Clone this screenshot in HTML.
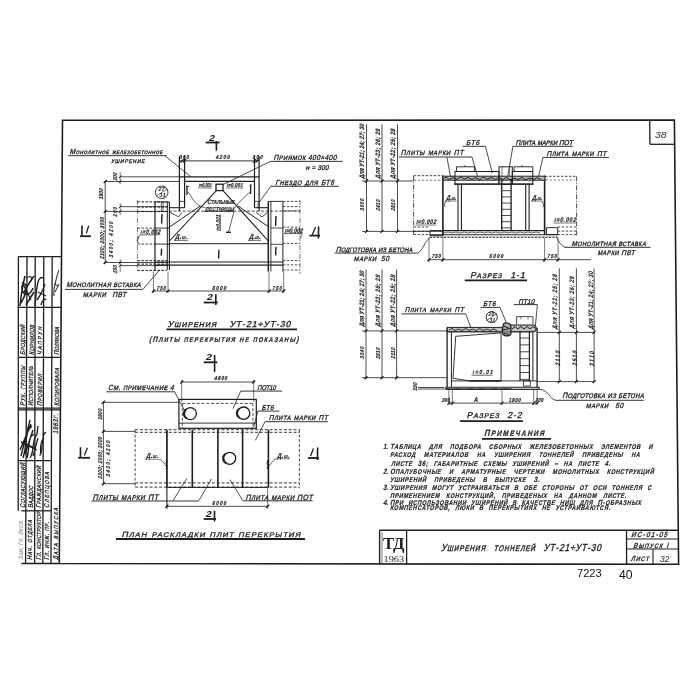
<!DOCTYPE html>
<html><head><meta charset="utf-8"><style>
html,body{margin:0;padding:0;background:#fff;width:700px;height:700px;overflow:hidden}
svg{display:block;will-change:transform}
</style></head><body>
<svg width="700" height="700" viewBox="0 0 700 700" stroke-linecap="butt">
<rect x="0" y="0" width="700" height="700" fill="#fff"/>
<polygon points="62.5,120.3 674.4,120.0 678.6,564.3 59.3,563.5" fill="none" stroke="#1e1e1e" stroke-width="1.6"/>
<line x1="649.7" y1="120.1" x2="649.9" y2="144.3" stroke="#1e1e1e" stroke-width="1.3"/>
<line x1="649.9" y1="144.3" x2="674.6" y2="144.3" stroke="#1e1e1e" stroke-width="1.3"/>
<text x="655.0" y="138.0" font-family="Liberation Sans" font-size="9.5" font-weight="normal" font-style="italic" fill="#1e1e1e" text-anchor="start" textLength="11.5" lengthAdjust="spacingAndGlyphs">38</text>
<line x1="379.6" y1="530.2" x2="678.0" y2="530.2" stroke="#1e1e1e" stroke-width="1.6"/>
<line x1="379.6" y1="530.2" x2="379.6" y2="564.0" stroke="#1e1e1e" stroke-width="1.4"/>
<line x1="382.0" y1="532.3" x2="382.0" y2="564.0" stroke="#1e1e1e" stroke-width="0.6"/>
<line x1="406.6" y1="530.2" x2="406.6" y2="564.0" stroke="#1e1e1e" stroke-width="1.3"/>
<text x="383.0" y="548.5" font-family="Liberation Serif" font-size="16" font-weight="bold" font-style="normal" fill="#1e1e1e" text-anchor="start" textLength="21.5" lengthAdjust="spacingAndGlyphs">ТД</text>
<text x="383.5" y="562.0" font-family="Liberation Serif" font-size="8" font-weight="normal" font-style="normal" fill="#1e1e1e" text-anchor="start" textLength="20.5" lengthAdjust="spacingAndGlyphs">1963</text>
<text transform="translate(441.00 551.20) skewX(-14) scale(0.800 1)" font-family="Liberation Sans" font-size="10.2" font-weight="normal" letter-spacing="1.125" word-spacing="5.641" fill="#1e1e1e" stroke="#1e1e1e" stroke-width="0.4"><tspan font-size="10.20">У</tspan><tspan font-size="7.96">ШИРЕНИЯ</tspan><tspan font-size="10.20"> </tspan><tspan font-size="7.96">ТОННЕЛЕЙ</tspan><tspan font-size="10.20"> УТ-21÷УТ-30</tspan></text>
<line x1="626.5" y1="530.2" x2="626.6" y2="564.2" stroke="#1e1e1e" stroke-width="1.3"/>
<line x1="626.5" y1="539.0" x2="678.2" y2="539.0" stroke="#1e1e1e" stroke-width="1.1"/>
<line x1="626.5" y1="549.0" x2="678.3" y2="549.0" stroke="#1e1e1e" stroke-width="1.1"/>
<line x1="653.0" y1="549.0" x2="653.0" y2="564.2" stroke="#1e1e1e" stroke-width="1.1"/>
<text transform="translate(631.00 537.00) skewX(-18) scale(0.850 1)" font-family="Liberation Sans" font-size="7.4" font-weight="normal" letter-spacing="1.472" fill="#1e1e1e" stroke="#1e1e1e" stroke-width="0.35"><tspan font-size="7.40">ИС-01-05</tspan></text>
<text transform="translate(633.00 547.50) skewX(-18) scale(0.850 1)" font-family="Liberation Sans" font-size="7.4" font-weight="normal" letter-spacing="1.405" fill="#1e1e1e" stroke="#1e1e1e" stroke-width="0.35"><tspan font-size="7.40">В</tspan><tspan font-size="6.29">ЫПУСК</tspan><tspan font-size="7.40"> I</tspan></text>
<text transform="translate(630.50 561.00) skewX(-18) scale(0.850 1)" font-family="Liberation Sans" font-size="7.4" font-weight="normal" letter-spacing="1.208" fill="#1e1e1e" stroke="#1e1e1e" stroke-width="0.35"><tspan font-size="7.40">Л</tspan><tspan font-size="6.29">ИСТ</tspan></text>
<text x="660.0" y="561.5" font-family="Liberation Sans" font-size="9.5" font-weight="normal" font-style="italic" fill="#1e1e1e" text-anchor="start" textLength="9.5" lengthAdjust="spacingAndGlyphs">32</text>
<text x="577.0" y="576.6" font-family="Liberation Sans" font-size="11" font-weight="normal" font-style="normal" fill="#111" text-anchor="start" textLength="24.7" lengthAdjust="spacingAndGlyphs">7223</text>
<text x="619.0" y="579.4" font-family="Liberation Sans" font-size="13.5" font-weight="normal" font-style="normal" fill="#111" text-anchor="start" textLength="13.6" lengthAdjust="spacingAndGlyphs">40</text>
<line x1="18.4" y1="256.6" x2="61.0" y2="256.6" stroke="#1e1e1e" stroke-width="1.3"/>
<line x1="18.4" y1="256.6" x2="18.2" y2="510.8" stroke="#1e1e1e" stroke-width="1.3"/>
<line x1="27.0" y1="256.6" x2="25.6" y2="563.4" stroke="#1e1e1e" stroke-width="1.3"/>
<line x1="35.2" y1="256.6" x2="34.6" y2="563.4" stroke="#1e1e1e" stroke-width="1.3"/>
<line x1="43.8" y1="256.6" x2="42.8" y2="563.4" stroke="#1e1e1e" stroke-width="1.3"/>
<line x1="52.2" y1="256.6" x2="51.0" y2="563.4" stroke="#1e1e1e" stroke-width="1.3"/>
<line x1="18.4" y1="307.4" x2="60.9" y2="307.4" stroke="#1e1e1e" stroke-width="1.3"/>
<line x1="18.3" y1="357.4" x2="60.5" y2="357.4" stroke="#1e1e1e" stroke-width="1.3"/>
<line x1="18.3" y1="408.2" x2="60.2" y2="408.2" stroke="#1e1e1e" stroke-width="1.3"/>
<line x1="18.3" y1="409.9" x2="60.2" y2="409.9" stroke="#1e1e1e" stroke-width="1.3"/>
<line x1="18.2" y1="460.6" x2="51.2" y2="460.6" stroke="#1e1e1e" stroke-width="1.3"/>
<line x1="21.5" y1="510.8" x2="51.0" y2="510.8" stroke="#1e1e1e" stroke-width="1.3"/>
<line x1="21.5" y1="563.4" x2="59.5" y2="563.4" stroke="#1e1e1e" stroke-width="1.5"/>
<text transform="translate(25.45 355.00) rotate(-90) skewX(-14) scale(0.820 1)" font-family="Liberation Sans" font-size="6.8" font-weight="normal" letter-spacing="0.562" fill="#1e1e1e" stroke="#1e1e1e" stroke-width="0.3"><tspan font-size="6.80">Б</tspan><tspan font-size="5.85">РОДСКИЙ</tspan></text>
<text transform="translate(33.75 355.00) rotate(-90) skewX(-14) scale(0.820 1)" font-family="Liberation Sans" font-size="6.8" font-weight="normal" letter-spacing="0.494" fill="#1e1e1e" stroke="#1e1e1e" stroke-width="0.3"><tspan font-size="6.80">К</tspan><tspan font-size="5.85">ОРНИЛОВ</tspan></text>
<text transform="translate(41.95 355.00) rotate(-90) skewX(-14) scale(0.820 1)" font-family="Liberation Sans" font-size="6.8" font-weight="normal" letter-spacing="1.973" fill="#1e1e1e" stroke="#1e1e1e" stroke-width="0.3"><tspan font-size="6.80">Ч</tspan><tspan font-size="5.85">АПРУН</tspan></text>
<text transform="translate(58.95 355.00) rotate(-90) skewX(-14) scale(0.820 1)" font-family="Liberation Sans" font-size="6.8" font-weight="normal" letter-spacing="0.174" fill="#1e1e1e" stroke="#1e1e1e" stroke-width="0.3"><tspan font-size="6.80">П</tspan><tspan font-size="5.85">ОЛЯКОВА</tspan></text>
<text transform="translate(24.95 406.00) rotate(-90) skewX(-14) scale(0.820 1)" font-family="Liberation Sans" font-size="6.8" font-weight="normal" letter-spacing="0.911" fill="#1e1e1e" stroke="#1e1e1e" stroke-width="0.3"><tspan font-size="6.80">Р</tspan><tspan font-size="5.85">УК</tspan><tspan font-size="6.80">. </tspan><tspan font-size="5.85">ГРУППЫ</tspan></text>
<text transform="translate(33.45 406.00) rotate(-90) skewX(-14) scale(0.820 1)" font-family="Liberation Sans" font-size="6.8" font-weight="normal" letter-spacing="0.357" fill="#1e1e1e" stroke="#1e1e1e" stroke-width="0.3"><tspan font-size="6.80">И</tspan><tspan font-size="5.85">СПОЛНИТЕЛЬ</tspan></text>
<text transform="translate(41.75 406.00) rotate(-90) skewX(-14) scale(0.820 1)" font-family="Liberation Sans" font-size="6.8" font-weight="normal" letter-spacing="0.868" fill="#1e1e1e" stroke="#1e1e1e" stroke-width="0.3"><tspan font-size="6.80">П</tspan><tspan font-size="5.85">РОВЕРИЛ</tspan></text>
<text transform="translate(58.75 406.00) rotate(-90) skewX(-14) scale(0.820 1)" font-family="Liberation Sans" font-size="6.8" font-weight="normal" letter-spacing="0.625" fill="#1e1e1e" stroke="#1e1e1e" stroke-width="0.3"><tspan font-size="6.80">К</tspan><tspan font-size="5.85">ОПИРОВАЛА</tspan></text>
<text transform="translate(58.45 434.00) rotate(-90) skewX(-14) scale(0.820 1)" font-family="Liberation Sans" font-size="6.8" font-weight="normal" letter-spacing="0.842" fill="#1e1e1e" stroke="#1e1e1e" stroke-width="0.3"><tspan font-size="6.80">1963</tspan><tspan font-size="5.85">Г</tspan><tspan font-size="6.80">.</tspan></text>
<text transform="translate(24.95 508.00) rotate(-90) skewX(-14) scale(0.820 1)" font-family="Liberation Sans" font-size="6.8" font-weight="normal" letter-spacing="0.743" fill="#1e1e1e" stroke="#1e1e1e" stroke-width="0.3"><tspan font-size="6.80">С</tspan><tspan font-size="5.85">ОГЛАСУЮЩИЙ</tspan></text>
<text transform="translate(32.95 508.00) rotate(-90) skewX(-14) scale(0.820 1)" font-family="Liberation Sans" font-size="6.8" font-weight="normal" letter-spacing="0.301" fill="#1e1e1e" stroke="#1e1e1e" stroke-width="0.3"><tspan font-size="6.80">В</tspan><tspan font-size="5.85">АДДОС</tspan></text>
<text transform="translate(40.95 508.00) rotate(-90) skewX(-14) scale(0.820 1)" font-family="Liberation Sans" font-size="6.8" font-weight="normal" letter-spacing="0.661" fill="#1e1e1e" stroke="#1e1e1e" stroke-width="0.3"><tspan font-size="6.80">Г</tspan><tspan font-size="5.85">РАЖДАНСКИЙ</tspan></text>
<text transform="translate(49.45 508.00) rotate(-90) skewX(-14) scale(0.820 1)" font-family="Liberation Sans" font-size="6.8" font-weight="normal" letter-spacing="1.528" fill="#1e1e1e" stroke="#1e1e1e" stroke-width="0.3"><tspan font-size="6.80">С</tspan><tspan font-size="5.85">ЛЕПЦОВА</tspan></text>
<text transform="translate(23.30 560.00) rotate(-90) skewX(-14) scale(0.820 1)" font-family="Liberation Sans" font-size="6.4" font-weight="bold" letter-spacing="0.312" fill="#999"><tspan font-size="6.40">З</tspan><tspan font-size="5.50">АМ</tspan><tspan font-size="6.40">. Г</tspan><tspan font-size="5.50">Л</tspan><tspan font-size="6.40">. Э</tspan><tspan font-size="5.50">КСП</tspan><tspan font-size="6.40">.</tspan></text>
<text transform="translate(32.45 560.00) rotate(-90) skewX(-14) scale(0.820 1)" font-family="Liberation Sans" font-size="6.8" font-weight="normal" letter-spacing="0.922" fill="#1e1e1e" stroke="#1e1e1e" stroke-width="0.3"><tspan font-size="6.80">Н</tspan><tspan font-size="5.85">АЧ</tspan><tspan font-size="6.80">. </tspan><tspan font-size="5.85">ОТДЕЛА</tspan></text>
<text transform="translate(40.95 560.00) rotate(-90) skewX(-14) scale(0.820 1)" font-family="Liberation Sans" font-size="6.8" font-weight="normal" letter-spacing="0.348" fill="#1e1e1e" stroke="#1e1e1e" stroke-width="0.3"><tspan font-size="6.80">Г</tspan><tspan font-size="5.85">Л</tspan><tspan font-size="6.80">. </tspan><tspan font-size="5.85">КОНСТРУКТОР</tspan></text>
<text transform="translate(49.45 560.00) rotate(-90) skewX(-14) scale(0.820 1)" font-family="Liberation Sans" font-size="6.8" font-weight="normal" letter-spacing="0.677" fill="#1e1e1e" stroke="#1e1e1e" stroke-width="0.3"><tspan font-size="6.80">Г</tspan><tspan font-size="5.85">Л</tspan><tspan font-size="6.80">. </tspan><tspan font-size="5.85">ИНЖ</tspan><tspan font-size="6.80">. </tspan><tspan font-size="5.85">ПР</tspan><tspan font-size="6.80">.</tspan></text>
<text transform="translate(57.95 560.00) rotate(-90) skewX(-14) scale(0.820 1)" font-family="Liberation Sans" font-size="6.8" font-weight="normal" letter-spacing="1.606" fill="#1e1e1e" stroke="#1e1e1e" stroke-width="0.3"><tspan font-size="6.80">Д</tspan><tspan font-size="5.85">АТА</tspan><tspan font-size="6.80"> </tspan><tspan font-size="5.85">ВЫПУСКА</tspan></text>
<path d="M20,306 C21,296 22,288 25,276 M21,303 C24,298 27,292 26,286 C25,282 21,284 22,290 C24,296 30,296 33,288 M24,292 C28,285 31,280 34,276 M26,305 C29,300 32,295 34,292" fill="none" stroke="#1e1e1e" stroke-width="1.5"/>
<path d="M27,278 C30,275 33,277 31,281 M22,282 L31,300" fill="none" stroke="#1e1e1e" stroke-width="1.2"/>
<path d="M35,306 C36,298 36,290 38,282 C39,278 42,276 44,279 M37,300 C40,296 43,290 45,284 M38,292 L46,296 M41,305 C42,300 45,298 46,300" fill="none" stroke="#1e1e1e" stroke-width="1.3"/>
<path d="M54,296 C53,290 55,286 56,280 C57,276 58,272 59,270 M55,292 L59,284 M54,284 L58,286" fill="none" stroke="#1e1e1e" stroke-width="1.0"/>
<path d="M21,456 L30,420 M23,458 C28,442 24,432 32,426 M25,454 L33,430 M27,458 C30,448 27,438 34,434 M21,442 L34,448 M20,450 L31,424" fill="none" stroke="#1e1e1e" stroke-width="1.4"/>
<path d="M30,458 C35,450 31,442 37,434 L38,426 M33,456 L38,438 M29,446 L37,450" fill="none" stroke="#1e1e1e" stroke-width="1.3"/>
<path d="M40,456 C42,450 38,444 44,438 M41,454 L44,432 M43,436 L46,432" fill="none" stroke="#1e1e1e" stroke-width="1.1"/>
<text transform="translate(69.60 154.20) skewX(-14) scale(0.900 1)" font-family="Liberation Sans" font-size="7.4" font-weight="normal" letter-spacing="0.659" fill="#1e1e1e" stroke="#1e1e1e" stroke-width="0.32"><tspan font-size="7.40">М</tspan><tspan font-size="4.88">ОНОЛИТНОЕ</tspan><tspan font-size="7.40"> </tspan><tspan font-size="4.88">ЖЕЛЕЗОБЕТОННОЕ</tspan></text>
<line x1="68.3" y1="155.7" x2="166.6" y2="155.7" stroke="#1e1e1e" stroke-width="0.9"/>
<line x1="164.6" y1="155.5" x2="191.0" y2="176.9" stroke="#1e1e1e" stroke-width="0.8"/>
<text transform="translate(110.90 162.80) skewX(-14) scale(0.900 1)" font-family="Liberation Sans" font-size="5.4" font-weight="normal" letter-spacing="0.926" fill="#1e1e1e" stroke="#1e1e1e" stroke-width="0.32"><tspan font-size="5.40">УШИРЕНИЕ</tspan></text>
<text x="209.0" y="141.0" font-family="Liberation Sans" font-size="8.5" font-weight="bold" font-style="italic" fill="#1e1e1e" text-anchor="start" textLength="6.0" lengthAdjust="spacingAndGlyphs">2</text>
<line x1="205.7" y1="142.5" x2="219.6" y2="142.5" stroke="#1e1e1e" stroke-width="1.8"/>
<line x1="216.4" y1="141.0" x2="216.4" y2="150.7" stroke="#1e1e1e" stroke-width="1.6"/>
<line x1="179.4" y1="160.9" x2="259.1" y2="160.9" stroke="#1e1e1e" stroke-width="0.9"/>
<text transform="translate(179.00 158.50) skewX(-14) scale(0.820 1)" font-family="Liberation Sans" font-size="5.6" font-weight="bold" letter-spacing="1.121" fill="#1e1e1e" stroke="#1e1e1e" stroke-width="0.2"><tspan font-size="5.60">300</tspan></text>
<text transform="translate(215.50 159.00) skewX(-14) scale(0.820 1)" font-family="Liberation Sans" font-size="5.8" font-weight="bold" letter-spacing="1.391" fill="#1e1e1e" stroke="#1e1e1e" stroke-width="0.2"><tspan font-size="5.80">4200</tspan></text>
<text transform="translate(252.30 158.50) skewX(-14) scale(0.820 1)" font-family="Liberation Sans" font-size="5.6" font-weight="bold" letter-spacing="1.426" fill="#1e1e1e" stroke="#1e1e1e" stroke-width="0.2"><tspan font-size="5.60">300</tspan></text>
<line x1="180.5" y1="162.5" x2="183.5" y2="159.3" stroke="#1e1e1e" stroke-width="1.3"/>
<line x1="183.1" y1="162.5" x2="186.1" y2="159.3" stroke="#1e1e1e" stroke-width="1.3"/>
<line x1="253.0" y1="162.5" x2="256.0" y2="159.3" stroke="#1e1e1e" stroke-width="1.3"/>
<line x1="255.5" y1="162.5" x2="258.5" y2="159.3" stroke="#1e1e1e" stroke-width="1.3"/>
<text transform="translate(273.60 159.60) skewX(-14) scale(0.900 1)" font-family="Liberation Sans" font-size="7.4" font-weight="normal" letter-spacing="0.438" fill="#1e1e1e" stroke="#1e1e1e" stroke-width="0.32"><tspan font-size="7.40">П</tspan><tspan font-size="6.36">РИЯМОК</tspan><tspan font-size="7.40"> 400×400</tspan></text>
<line x1="270.3" y1="161.4" x2="342.6" y2="161.4" stroke="#1e1e1e" stroke-width="0.9"/>
<text transform="translate(305.50 169.90) skewX(-14) scale(0.900 1)" font-family="Liberation Sans" font-size="7.0" font-weight="normal" letter-spacing="0.309" fill="#1e1e1e" stroke="#1e1e1e" stroke-width="0.32"><tspan font-size="5.60">H</tspan><tspan font-size="7.00"> = 300</tspan></text>
<line x1="270.3" y1="161.4" x2="223.0" y2="184.6" stroke="#1e1e1e" stroke-width="0.8"/>
<text transform="translate(275.20 184.50) skewX(-14) scale(0.900 1)" font-family="Liberation Sans" font-size="7.4" font-weight="normal" letter-spacing="0.667" word-spacing="0.251" fill="#1e1e1e" stroke="#1e1e1e" stroke-width="0.32"><tspan font-size="7.40">Г</tspan><tspan font-size="6.36">НЕЗДО</tspan><tspan font-size="7.40"> </tspan><tspan font-size="6.36">ДЛЯ</tspan><tspan font-size="7.40"> БТ6</tspan></text>
<line x1="270.9" y1="186.3" x2="338.9" y2="186.3" stroke="#1e1e1e" stroke-width="0.9"/>
<line x1="270.9" y1="186.3" x2="258.0" y2="204.0" stroke="#1e1e1e" stroke-width="0.8"/>
<line x1="179.4" y1="156.3" x2="179.4" y2="211.0" stroke="#1e1e1e" stroke-width="1.2"/>
<line x1="184.6" y1="156.3" x2="184.6" y2="207.7" stroke="#1e1e1e" stroke-width="1.2"/>
<line x1="254.5" y1="156.3" x2="254.5" y2="207.7" stroke="#1e1e1e" stroke-width="1.2"/>
<line x1="259.1" y1="156.3" x2="259.1" y2="211.0" stroke="#1e1e1e" stroke-width="1.2"/>
<line x1="179.4" y1="201.4" x2="184.6" y2="201.4" stroke="#1e1e1e" stroke-width="0.8"/>
<line x1="254.5" y1="201.4" x2="259.1" y2="201.4" stroke="#1e1e1e" stroke-width="0.8"/>
<line x1="179.4" y1="176.9" x2="259.1" y2="176.9" stroke="#1e1e1e" stroke-width="1.1"/>
<line x1="184.6" y1="181.4" x2="254.5" y2="181.4" stroke="#1e1e1e" stroke-width="1.1"/>
<line x1="105.2" y1="181.5" x2="105.2" y2="263.3" stroke="#1e1e1e" stroke-width="0.8"/>
<line x1="105.2" y1="181.5" x2="180.0" y2="181.5" stroke="#1e1e1e" stroke-width="0.8"/>
<line x1="121.0" y1="176.8" x2="180.0" y2="176.8" stroke="#1e1e1e" stroke-width="0.8"/>
<line x1="105.2" y1="211.4" x2="168.0" y2="211.4" stroke="#1e1e1e" stroke-width="0.8"/>
<line x1="121.0" y1="206.7" x2="168.0" y2="206.7" stroke="#1e1e1e" stroke-width="0.8"/>
<line x1="105.2" y1="262.5" x2="168.0" y2="262.5" stroke="#1e1e1e" stroke-width="0.8"/>
<line x1="121.0" y1="265.6" x2="168.0" y2="265.6" stroke="#1e1e1e" stroke-width="0.8"/>
<line x1="120.2" y1="172.0" x2="120.2" y2="184.0" stroke="#1e1e1e" stroke-width="0.6"/>
<line x1="120.2" y1="203.0" x2="120.2" y2="215.0" stroke="#1e1e1e" stroke-width="0.6"/>
<line x1="120.2" y1="259.0" x2="120.2" y2="272.0" stroke="#1e1e1e" stroke-width="0.6"/>
<text transform="translate(103.32 199.60) rotate(-90) skewX(-14) scale(0.820 1)" font-family="Liberation Sans" font-size="5.6" font-weight="bold" letter-spacing="0.319" fill="#1e1e1e" stroke="#1e1e1e" stroke-width="0.2"><tspan font-size="5.60">1800</tspan></text>
<text transform="translate(117.42 180.70) rotate(-90) skewX(-14) scale(0.820 1)" font-family="Liberation Sans" font-size="5.6" font-weight="bold" letter-spacing="0.024" fill="#1e1e1e" stroke="#1e1e1e" stroke-width="0.2"><tspan font-size="5.60">200</tspan></text>
<text transform="translate(117.42 216.90) rotate(-90) skewX(-14) scale(0.820 1)" font-family="Liberation Sans" font-size="5.6" font-weight="bold" letter-spacing="1.121" fill="#1e1e1e" stroke="#1e1e1e" stroke-width="0.2"><tspan font-size="5.60">200</tspan></text>
<text transform="translate(117.42 273.50) rotate(-90) skewX(-14) scale(0.820 1)" font-family="Liberation Sans" font-size="5.6" font-weight="bold" letter-spacing="0.207" fill="#1e1e1e" stroke="#1e1e1e" stroke-width="0.2"><tspan font-size="5.60">200</tspan></text>
<text transform="translate(103.62 259.30) rotate(-90) skewX(-14) scale(0.820 1)" font-family="Liberation Sans" font-size="5.6" font-weight="bold" letter-spacing="0.467" fill="#1e1e1e" stroke="#1e1e1e" stroke-width="0.2"><tspan font-size="5.60">2100; 2000; 3000</tspan></text>
<text transform="translate(112.72 257.80) rotate(-90) skewX(-14) scale(0.820 1)" font-family="Liberation Sans" font-size="5.6" font-weight="bold" letter-spacing="1.730" fill="#1e1e1e" stroke="#1e1e1e" stroke-width="0.2"><tspan font-size="5.60">3400; 4200</tspan></text>
<line x1="103.7" y1="183.0" x2="106.7" y2="180.0" stroke="#1e1e1e" stroke-width="1.3"/>
<line x1="103.7" y1="212.9" x2="106.7" y2="209.9" stroke="#1e1e1e" stroke-width="1.3"/>
<line x1="103.7" y1="264.0" x2="106.7" y2="261.0" stroke="#1e1e1e" stroke-width="1.3"/>
<line x1="118.8" y1="178.10000000000002" x2="121.6" y2="175.5" stroke="#1e1e1e" stroke-width="1.0"/>
<line x1="118.8" y1="182.8" x2="121.6" y2="180.2" stroke="#1e1e1e" stroke-width="1.0"/>
<line x1="118.8" y1="208.0" x2="121.6" y2="205.39999999999998" stroke="#1e1e1e" stroke-width="1.0"/>
<line x1="118.8" y1="212.70000000000002" x2="121.6" y2="210.1" stroke="#1e1e1e" stroke-width="1.0"/>
<line x1="118.8" y1="263.8" x2="121.6" y2="261.2" stroke="#1e1e1e" stroke-width="1.0"/>
<line x1="118.8" y1="266.90000000000003" x2="121.6" y2="264.3" stroke="#1e1e1e" stroke-width="1.0"/>
<line x1="82.0" y1="225.5" x2="81.9" y2="236.5" stroke="#1e1e1e" stroke-width="1.6"/>
<line x1="88.7" y1="225.7" x2="86.3" y2="233.4" stroke="#1e1e1e" stroke-width="1.3"/>
<line x1="80.1" y1="236.2" x2="91.0" y2="236.2" stroke="#1e1e1e" stroke-width="1.8"/>
<line x1="168.9" y1="207.7" x2="184.6" y2="207.7" stroke="#1e1e1e" stroke-width="1.1"/>
<line x1="168.9" y1="211.1" x2="300.0" y2="211.1" stroke="#1e1e1e" stroke-width="0.8" stroke-dasharray="3,1.6"/>
<line x1="254.5" y1="207.7" x2="268.3" y2="207.7" stroke="#1e1e1e" stroke-width="1.1"/>
<line x1="155.0" y1="201.9" x2="155.0" y2="270.4" stroke="#1e1e1e" stroke-width="1.2"/>
<line x1="167.3" y1="201.9" x2="167.3" y2="270.0" stroke="#1e1e1e" stroke-width="1.0"/>
<line x1="169.4" y1="201.9" x2="169.4" y2="270.0" stroke="#1e1e1e" stroke-width="1.1"/>
<line x1="155.0" y1="201.9" x2="169.4" y2="201.9" stroke="#1e1e1e" stroke-width="0.9"/>
<line x1="161.4" y1="201.9" x2="161.4" y2="211.6" stroke="#1e1e1e" stroke-width="0.7"/>
<line x1="163.1" y1="201.9" x2="163.1" y2="211.6" stroke="#1e1e1e" stroke-width="0.7"/>
<line x1="155.0" y1="228.1" x2="169.4" y2="228.1" stroke="#1e1e1e" stroke-width="0.9"/>
<line x1="155.0" y1="244.1" x2="169.4" y2="244.1" stroke="#1e1e1e" stroke-width="0.9"/>
<line x1="137.4" y1="201.9" x2="167.0" y2="201.9" stroke="#1e1e1e" stroke-width="1.0" stroke-dasharray="2.6,1.4"/>
<line x1="137.4" y1="207.0" x2="167.0" y2="207.0" stroke="#1e1e1e" stroke-width="1.0" stroke-dasharray="2.6,1.4"/>
<line x1="137.4" y1="211.6" x2="167.0" y2="211.6" stroke="#1e1e1e" stroke-width="1.0" stroke-dasharray="2.6,1.4"/>
<line x1="137.4" y1="260.7" x2="167.0" y2="260.7" stroke="#1e1e1e" stroke-width="1.0" stroke-dasharray="2.6,1.4"/>
<line x1="137.4" y1="264.1" x2="167.0" y2="264.1" stroke="#1e1e1e" stroke-width="1.0" stroke-dasharray="2.6,1.4"/>
<line x1="137.4" y1="270.4" x2="167.0" y2="270.4" stroke="#1e1e1e" stroke-width="1.0" stroke-dasharray="2.6,1.4"/>
<line x1="137.4" y1="228.1" x2="155.0" y2="228.1" stroke="#1e1e1e" stroke-width="0.8" stroke-dasharray="2.6,1.4"/>
<line x1="137.4" y1="244.1" x2="155.0" y2="244.1" stroke="#1e1e1e" stroke-width="0.8" stroke-dasharray="2.6,1.4"/>
<line x1="137.4" y1="200.0" x2="137.4" y2="272.0" stroke="#1e1e1e" stroke-width="0.6" stroke-dasharray="5,1.5,1,1.5"/>
<text transform="translate(140.30 233.60) skewX(-14) scale(0.820 1)" font-family="Liberation Sans" font-size="6.4" font-weight="bold" letter-spacing="0.536" fill="#1e1e1e" stroke="#1e1e1e" stroke-width="0.2"><tspan font-size="5.12">I</tspan><tspan font-size="6.40">=0.002</tspan></text>
<line x1="139.8" y1="234.8" x2="160.3" y2="234.8" stroke="#1e1e1e" stroke-width="0.7"/>
<path d="M139.5,235 l-2.5,6.5 l2,1.5" fill="none" stroke="#1e1e1e" stroke-width="0.8"/>
<line x1="162.0" y1="214.0" x2="161.6" y2="223.6" stroke="#1e1e1e" stroke-width="1.4"/>
<line x1="161.6" y1="248.7" x2="161.3" y2="255.6" stroke="#1e1e1e" stroke-width="1.4"/>
<circle cx="161.7" cy="192.3" r="6.3" fill="none" stroke="#1e1e1e" stroke-width="0.9"/>
<text x="158.2" y="191.2" font-family="Liberation Sans" font-size="5" font-weight="bold" font-style="italic" fill="#1e1e1e" text-anchor="start" textLength="6.5" lengthAdjust="spacingAndGlyphs">27</text>
<text x="159.2" y="197.2" font-family="Liberation Sans" font-size="5" font-weight="bold" font-style="italic" fill="#1e1e1e" text-anchor="start" textLength="6.5" lengthAdjust="spacingAndGlyphs">31</text>
<line x1="156.0" y1="196.0" x2="167.5" y2="189.0" stroke="#1e1e1e" stroke-width="0.6"/>
<line x1="268.3" y1="201.4" x2="268.3" y2="271.5" stroke="#1e1e1e" stroke-width="1.5"/>
<line x1="270.9" y1="201.4" x2="270.9" y2="271.5" stroke="#1e1e1e" stroke-width="0.9"/>
<line x1="282.9" y1="201.4" x2="282.9" y2="271.7" stroke="#1e1e1e" stroke-width="1.0"/>
<line x1="268.3" y1="201.4" x2="282.9" y2="201.4" stroke="#1e1e1e" stroke-width="0.9"/>
<line x1="270.9" y1="228.0" x2="282.9" y2="228.0" stroke="#1e1e1e" stroke-width="0.8"/>
<line x1="270.9" y1="244.3" x2="282.9" y2="244.3" stroke="#1e1e1e" stroke-width="0.8"/>
<line x1="282.9" y1="201.4" x2="300.0" y2="201.4" stroke="#1e1e1e" stroke-width="0.8" stroke-dasharray="2.5,1.5"/>
<line x1="282.9" y1="206.6" x2="300.0" y2="206.6" stroke="#1e1e1e" stroke-width="0.8" stroke-dasharray="2.5,1.5"/>
<line x1="282.9" y1="210.9" x2="300.0" y2="210.9" stroke="#1e1e1e" stroke-width="0.8" stroke-dasharray="2.5,1.5"/>
<line x1="282.9" y1="227.1" x2="300.0" y2="227.1" stroke="#1e1e1e" stroke-width="0.8" stroke-dasharray="2.5,1.5"/>
<line x1="282.9" y1="243.4" x2="300.0" y2="243.4" stroke="#1e1e1e" stroke-width="0.8" stroke-dasharray="2.5,1.5"/>
<line x1="282.9" y1="260.6" x2="300.0" y2="260.6" stroke="#1e1e1e" stroke-width="0.8" stroke-dasharray="2.5,1.5"/>
<line x1="282.9" y1="264.9" x2="300.0" y2="264.9" stroke="#1e1e1e" stroke-width="0.8" stroke-dasharray="2.5,1.5"/>
<line x1="282.9" y1="270.0" x2="300.0" y2="270.0" stroke="#1e1e1e" stroke-width="0.8" stroke-dasharray="2.5,1.5"/>
<line x1="300.0" y1="200.0" x2="300.0" y2="274.0" stroke="#1e1e1e" stroke-width="0.6" stroke-dasharray="5,1.5,1,1.5"/>
<line x1="276.0" y1="216.0" x2="275.6" y2="226.0" stroke="#1e1e1e" stroke-width="1.4"/>
<line x1="276.0" y1="246.9" x2="275.6" y2="255.4" stroke="#1e1e1e" stroke-width="1.4"/>
<text transform="translate(284.60 232.60) skewX(-14) scale(0.820 1)" font-family="Liberation Sans" font-size="6.6" font-weight="bold" letter-spacing="0.001" fill="#1e1e1e" stroke="#1e1e1e" stroke-width="0.2"><tspan font-size="5.68">I</tspan><tspan font-size="6.60">=0.002</tspan></text>
<line x1="284.0" y1="233.6" x2="302.6" y2="233.6" stroke="#1e1e1e" stroke-width="0.7"/>
<path d="M302,234 l-1.5,3 l1,1" fill="none" stroke="#1e1e1e" stroke-width="0.7"/>
<line x1="318.6" y1="226.4" x2="318.4" y2="238.4" stroke="#1e1e1e" stroke-width="1.6"/>
<line x1="315.5" y1="227.0" x2="312.3" y2="234.8" stroke="#1e1e1e" stroke-width="1.3"/>
<line x1="309.4" y1="235.6" x2="320.0" y2="235.6" stroke="#1e1e1e" stroke-width="1.8"/>
<line x1="258.0" y1="204.0" x2="258.0" y2="207.7" stroke="#1e1e1e" stroke-width="0.8"/>
<polyline points="170.0,212.3 178.6,216.9 182.0,212.3" fill="none" stroke="#1e1e1e" stroke-width="0.8"/>
<polyline points="256.0,212.3 262.0,216.9 268.0,212.3" fill="none" stroke="#1e1e1e" stroke-width="0.8"/>
<line x1="216.3" y1="190.6" x2="169.5" y2="241.0" stroke="#1e1e1e" stroke-width="1.1"/>
<line x1="170.0" y1="226.6" x2="200.3" y2="206.0" stroke="#1e1e1e" stroke-width="1.0"/>
<line x1="223.0" y1="190.6" x2="268.3" y2="241.0" stroke="#1e1e1e" stroke-width="1.1"/>
<line x1="268.3" y1="226.6" x2="238.0" y2="206.0" stroke="#1e1e1e" stroke-width="1.0"/>
<rect x="216.0" y="184.2" width="7.0" height="6.4" fill="none" stroke="#1e1e1e" stroke-width="1.3"/>
<line x1="168.9" y1="243.7" x2="268.3" y2="243.7" stroke="#1e1e1e" stroke-width="1.0"/>
<line x1="155.0" y1="262.0" x2="283.0" y2="262.0" stroke="#1e1e1e" stroke-width="1.2"/>
<line x1="155.0" y1="265.1" x2="283.0" y2="265.1" stroke="#1e1e1e" stroke-width="1.2"/>
<text transform="translate(198.50 187.00) skewX(-14) scale(0.698 1)" font-family="Liberation Sans" font-size="5.6" font-weight="bold" letter-spacing="0.000" fill="#1e1e1e" stroke="#1e1e1e" stroke-width="0.2"><tspan font-size="4.82">I</tspan><tspan font-size="5.60">=0.001</tspan></text>
<line x1="198.0" y1="188.0" x2="212.0" y2="188.0" stroke="#1e1e1e" stroke-width="0.6"/>
<text transform="translate(226.50 187.00) skewX(-14) scale(0.820 1)" font-family="Liberation Sans" font-size="5.6" font-weight="bold" letter-spacing="0.149" fill="#1e1e1e" stroke="#1e1e1e" stroke-width="0.2"><tspan font-size="4.82">I</tspan><tspan font-size="5.60">=0.001</tspan></text>
<line x1="226.0" y1="188.0" x2="243.0" y2="188.0" stroke="#1e1e1e" stroke-width="0.6"/>
<text transform="translate(207.00 204.00) skewX(-14) scale(0.805 1)" font-family="Liberation Sans" font-size="6.6" font-weight="bold" letter-spacing="0.000" fill="#1e1e1e" stroke="#1e1e1e" stroke-width="0.2"><tspan font-size="6.60">С</tspan><tspan font-size="5.68">ТАЛЬНЫЕ</tspan></text>
<text transform="translate(205.00 210.50) skewX(-14) scale(0.820 1)" font-family="Liberation Sans" font-size="6.6" font-weight="bold" letter-spacing="0.327" fill="#1e1e1e" stroke="#1e1e1e" stroke-width="0.2"><tspan font-size="5.68">ЛЕСТНИЦЫ</tspan></text>
<line x1="204.0" y1="211.5" x2="234.0" y2="211.5" stroke="#1e1e1e" stroke-width="0.7"/>
<text transform="translate(219.50 231.00) rotate(-90) skewX(-14) scale(0.820 1)" font-family="Liberation Sans" font-size="5.6" font-weight="bold" letter-spacing="0.149" fill="#1e1e1e" stroke="#1e1e1e" stroke-width="0.2"><tspan font-size="4.82">I</tspan><tspan font-size="5.60">=0.001</tspan></text>
<line x1="220.5" y1="214.6" x2="220.5" y2="231.0" stroke="#1e1e1e" stroke-width="0.6"/>
<line x1="226.0" y1="232.3" x2="231.0" y2="232.3" stroke="#1e1e1e" stroke-width="1.4"/>
<line x1="228.5" y1="232.3" x2="234.0" y2="211.5" stroke="#1e1e1e" stroke-width="0.7"/>
<line x1="187.0" y1="186.0" x2="187.0" y2="195.0" stroke="#1e1e1e" stroke-width="1.3"/>
<line x1="186.0" y1="186.0" x2="189.0" y2="186.5" stroke="#1e1e1e" stroke-width="0.9"/>
<line x1="250.6" y1="185.0" x2="250.6" y2="194.0" stroke="#1e1e1e" stroke-width="1.3"/>
<line x1="249.5" y1="185.0" x2="252.0" y2="185.0" stroke="#1e1e1e" stroke-width="0.9"/>
<path d="M188,192 C192,196 194,206 206,208" fill="none" stroke="#1e1e1e" stroke-width="0.7"/>
<path d="M250,192 C246,196 238,202 232,212" fill="none" stroke="#1e1e1e" stroke-width="0.7"/>
<text transform="translate(175.00 239.00) skewX(-14) scale(0.820 1)" font-family="Liberation Sans" font-size="7" font-weight="bold" letter-spacing="0.669" fill="#1e1e1e" stroke="#1e1e1e" stroke-width="0.2"><tspan font-size="7.00">Д.</tspan><tspan font-size="4.34">Ш</tspan><tspan font-size="7.00">.</tspan></text>
<line x1="174.0" y1="240.3" x2="188.0" y2="240.3" stroke="#1e1e1e" stroke-width="0.7"/>
<text transform="translate(249.00 239.00) skewX(-14) scale(0.820 1)" font-family="Liberation Sans" font-size="7" font-weight="bold" letter-spacing="0.263" fill="#1e1e1e" stroke="#1e1e1e" stroke-width="0.2"><tspan font-size="7.00">Д.</tspan><tspan font-size="4.34">Ш</tspan><tspan font-size="7.00">.</tspan></text>
<line x1="248.0" y1="240.3" x2="261.0" y2="240.3" stroke="#1e1e1e" stroke-width="0.7"/>
<line x1="218.9" y1="249.7" x2="218.6" y2="258.6" stroke="#1e1e1e" stroke-width="1.4"/>
<text transform="translate(66.20 287.40) skewX(-14) scale(0.900 1)" font-family="Liberation Sans" font-size="7.4" font-weight="normal" letter-spacing="0.331" fill="#1e1e1e" stroke="#1e1e1e" stroke-width="0.32"><tspan font-size="7.40">М</tspan><tspan font-size="6.36">ОНОЛИТНАЯ</tspan><tspan font-size="7.40"> </tspan><tspan font-size="6.36">ВСТАВКА</tspan></text>
<line x1="64.9" y1="289.4" x2="142.9" y2="289.4" stroke="#1e1e1e" stroke-width="0.9"/>
<line x1="142.9" y1="289.4" x2="160.0" y2="269.5" stroke="#1e1e1e" stroke-width="0.8"/>
<text transform="translate(82.70 296.90) skewX(-14) scale(0.900 1)" font-family="Liberation Sans" font-size="7.4" font-weight="normal" letter-spacing="0.667" word-spacing="3.566" fill="#1e1e1e" stroke="#1e1e1e" stroke-width="0.32"><tspan font-size="6.66">МАРКИ</tspan><tspan font-size="7.40"> ПВТ</tspan></text>
<line x1="153.4" y1="291.0" x2="283.7" y2="291.0" stroke="#1e1e1e" stroke-width="0.8"/>
<line x1="153.4" y1="271.5" x2="153.4" y2="293.0" stroke="#1e1e1e" stroke-width="0.6"/>
<line x1="168.0" y1="271.5" x2="168.0" y2="293.0" stroke="#1e1e1e" stroke-width="0.6"/>
<line x1="269.0" y1="271.5" x2="269.0" y2="293.0" stroke="#1e1e1e" stroke-width="0.6"/>
<line x1="283.7" y1="271.5" x2="283.7" y2="293.0" stroke="#1e1e1e" stroke-width="0.6"/>
<text transform="translate(156.50 289.50) skewX(-14) scale(0.820 1)" font-family="Liberation Sans" font-size="5.6" font-weight="bold" letter-spacing="0.817" fill="#1e1e1e" stroke="#1e1e1e" stroke-width="0.2"><tspan font-size="5.60">750</tspan></text>
<text transform="translate(212.00 289.50) skewX(-14) scale(0.820 1)" font-family="Liberation Sans" font-size="5.8" font-weight="bold" letter-spacing="1.391" fill="#1e1e1e" stroke="#1e1e1e" stroke-width="0.2"><tspan font-size="5.80">6000</tspan></text>
<text transform="translate(272.00 289.50) skewX(-14) scale(0.820 1)" font-family="Liberation Sans" font-size="5.6" font-weight="bold" letter-spacing="1.121" fill="#1e1e1e" stroke="#1e1e1e" stroke-width="0.2"><tspan font-size="5.60">750</tspan></text>
<line x1="151.9" y1="292.5" x2="154.9" y2="289.5" stroke="#1e1e1e" stroke-width="1.3"/>
<line x1="166.5" y1="292.5" x2="169.5" y2="289.5" stroke="#1e1e1e" stroke-width="1.3"/>
<line x1="267.5" y1="292.5" x2="270.5" y2="289.5" stroke="#1e1e1e" stroke-width="1.3"/>
<line x1="282.2" y1="292.5" x2="285.2" y2="289.5" stroke="#1e1e1e" stroke-width="1.3"/>
<text x="207.0" y="300.3" font-family="Liberation Sans" font-size="8.5" font-weight="bold" font-style="italic" fill="#1e1e1e" text-anchor="start" textLength="6.0" lengthAdjust="spacingAndGlyphs">2</text>
<line x1="203.8" y1="302.5" x2="217.7" y2="302.5" stroke="#1e1e1e" stroke-width="1.8"/>
<line x1="215.8" y1="294.3" x2="215.8" y2="305.0" stroke="#1e1e1e" stroke-width="1.6"/>
<text transform="translate(167.50 327.10) skewX(-14) scale(1.000 1)" font-family="Liberation Sans" font-size="8.6" font-weight="normal" letter-spacing="1.000" word-spacing="8.943" fill="#1e1e1e" stroke="#1e1e1e" stroke-width="0.35"><tspan font-size="8.60">У</tspan><tspan font-size="7.05">ШИРЕНИЯ</tspan><tspan font-size="8.60"> УТ-21÷УТ-30</tspan></text>
<line x1="166.4" y1="329.3" x2="297.1" y2="329.3" stroke="#1e1e1e" stroke-width="1.8"/>
<text transform="translate(149.00 342.00) skewX(-14) scale(0.820 1)" font-family="Liberation Sans" font-size="8" font-weight="bold" letter-spacing="1.576" fill="#1e1e1e" stroke="#1e1e1e" stroke-width="0.2"><tspan font-size="8.00">(П</tspan><tspan font-size="6.88">ЛИТЫ</tspan><tspan font-size="8.00">  </tspan><tspan font-size="6.88">ПЕРЕКРЫТИЯ</tspan><tspan font-size="8.00">  </tspan><tspan font-size="6.88">НЕ</tspan><tspan font-size="8.00">  </tspan><tspan font-size="6.88">ПОКАЗАНЫ</tspan><tspan font-size="8.00">)</tspan></text>
<line x1="366.5" y1="124.3" x2="366.5" y2="231.4" stroke="#1e1e1e" stroke-width="0.8"/>
<line x1="365.0" y1="182.5" x2="368.0" y2="179.5" stroke="#1e1e1e" stroke-width="1.3"/>
<line x1="365.0" y1="232.9" x2="368.0" y2="229.9" stroke="#1e1e1e" stroke-width="1.3"/>
<line x1="382.0" y1="124.3" x2="382.0" y2="231.4" stroke="#1e1e1e" stroke-width="0.8"/>
<line x1="380.5" y1="182.5" x2="383.5" y2="179.5" stroke="#1e1e1e" stroke-width="1.3"/>
<line x1="380.5" y1="232.9" x2="383.5" y2="229.9" stroke="#1e1e1e" stroke-width="1.3"/>
<line x1="397.5" y1="124.3" x2="397.5" y2="231.4" stroke="#1e1e1e" stroke-width="0.8"/>
<line x1="396.0" y1="182.5" x2="399.0" y2="179.5" stroke="#1e1e1e" stroke-width="1.3"/>
<line x1="396.0" y1="232.9" x2="399.0" y2="229.9" stroke="#1e1e1e" stroke-width="1.3"/>
<line x1="362.0" y1="181.0" x2="413.6" y2="181.0" stroke="#1e1e1e" stroke-width="0.8"/>
<line x1="362.0" y1="231.4" x2="442.9" y2="231.4" stroke="#1e1e1e" stroke-width="0.8"/>
<text transform="translate(364.30 179.00) rotate(-90) skewX(-14) scale(0.820 1)" font-family="Liberation Sans" font-size="6.4" font-weight="bold" letter-spacing="0.135" fill="#1e1e1e" stroke="#1e1e1e" stroke-width="0.2"><tspan font-size="6.40">Д</tspan><tspan font-size="5.50">ЛЯ</tspan><tspan font-size="6.40"> УТ-21; 24; 27; 30</tspan></text>
<text transform="translate(380.30 179.00) rotate(-90) skewX(-14) scale(0.820 1)" font-family="Liberation Sans" font-size="6.4" font-weight="bold" letter-spacing="0.477" fill="#1e1e1e" stroke="#1e1e1e" stroke-width="0.2"><tspan font-size="6.40">Д</tspan><tspan font-size="5.50">ЛЯ</tspan><tspan font-size="6.40"> УТ-23; 26; 29</tspan></text>
<text transform="translate(395.30 179.00) rotate(-90) skewX(-14) scale(0.820 1)" font-family="Liberation Sans" font-size="6.4" font-weight="bold" letter-spacing="0.477" fill="#1e1e1e" stroke="#1e1e1e" stroke-width="0.2"><tspan font-size="6.40">Д</tspan><tspan font-size="5.50">ЛЯ</tspan><tspan font-size="6.40"> УТ-22; 25; 28</tspan></text>
<text transform="translate(364.32 211.00) rotate(-90) skewX(-14) scale(0.820 1)" font-family="Liberation Sans" font-size="5.6" font-weight="bold" letter-spacing="0.726" fill="#1e1e1e" stroke="#1e1e1e" stroke-width="0.2"><tspan font-size="5.60">3000</tspan></text>
<text transform="translate(380.32 211.00) rotate(-90) skewX(-14) scale(0.820 1)" font-family="Liberation Sans" font-size="5.6" font-weight="bold" letter-spacing="0.319" fill="#1e1e1e" stroke="#1e1e1e" stroke-width="0.2"><tspan font-size="5.60">2410</tspan></text>
<text transform="translate(395.22 211.00) rotate(-90) skewX(-14) scale(0.820 1)" font-family="Liberation Sans" font-size="5.6" font-weight="bold" letter-spacing="0.319" fill="#1e1e1e" stroke="#1e1e1e" stroke-width="0.2"><tspan font-size="5.60">2810</tspan></text>
<text transform="translate(400.70 155.40) skewX(-14) scale(0.900 1)" font-family="Liberation Sans" font-size="7.4" font-weight="normal" letter-spacing="0.667" word-spacing="0.694" fill="#1e1e1e" stroke="#1e1e1e" stroke-width="0.32"><tspan font-size="7.40">П</tspan><tspan font-size="6.36">ЛИТЫ</tspan><tspan font-size="7.40"> </tspan><tspan font-size="6.36">МАРКИ</tspan><tspan font-size="7.40"> ПТ</tspan></text>
<line x1="398.9" y1="157.0" x2="472.0" y2="157.0" stroke="#1e1e1e" stroke-width="0.9"/>
<line x1="472.0" y1="157.0" x2="477.7" y2="176.6" stroke="#1e1e1e" stroke-width="0.8"/>
<line x1="446.9" y1="157.0" x2="450.5" y2="176.6" stroke="#1e1e1e" stroke-width="0.8"/>
<text transform="translate(465.90 145.20) skewX(-14) scale(0.900 1)" font-family="Liberation Sans" font-size="7.2" font-weight="normal" letter-spacing="0.932" fill="#1e1e1e" stroke="#1e1e1e" stroke-width="0.32"><tspan font-size="7.20">БТ6</tspan></text>
<line x1="462.6" y1="146.3" x2="485.4" y2="146.3" stroke="#1e1e1e" stroke-width="0.9"/>
<line x1="485.4" y1="146.3" x2="492.3" y2="173.0" stroke="#1e1e1e" stroke-width="0.8"/>
<text transform="translate(515.60 144.60) skewX(-14) scale(0.900 1)" font-family="Liberation Sans" font-size="7.2" font-weight="normal" letter-spacing="0.116" fill="#1e1e1e" stroke="#1e1e1e" stroke-width="0.32"><tspan font-size="7.20">П</tspan><tspan font-size="6.19">ЛИТА</tspan><tspan font-size="7.20"> </tspan><tspan font-size="6.19">МАРКИ</tspan><tspan font-size="7.20"> ПОТ</tspan></text>
<line x1="512.9" y1="146.3" x2="572.9" y2="146.3" stroke="#1e1e1e" stroke-width="0.9"/>
<line x1="512.9" y1="146.3" x2="507.7" y2="176.6" stroke="#1e1e1e" stroke-width="0.8"/>
<text transform="translate(546.50 155.70) skewX(-14) scale(0.900 1)" font-family="Liberation Sans" font-size="7.2" font-weight="normal" letter-spacing="0.667" word-spacing="0.666" fill="#1e1e1e" stroke="#1e1e1e" stroke-width="0.32"><tspan font-size="7.20">П</tspan><tspan font-size="6.19">ЛИТА</tspan><tspan font-size="7.20"> </tspan><tspan font-size="6.19">МАРКИ</tspan><tspan font-size="7.20"> ПТ</tspan></text>
<line x1="542.9" y1="157.4" x2="608.9" y2="157.4" stroke="#1e1e1e" stroke-width="0.9"/>
<line x1="542.9" y1="157.4" x2="538.6" y2="176.6" stroke="#1e1e1e" stroke-width="0.8"/>
<line x1="413.6" y1="175.7" x2="413.6" y2="235.0" stroke="#1e1e1e" stroke-width="0.8" stroke-dasharray="5,1.5,1,1.5"/>
<line x1="413.6" y1="175.7" x2="443.0" y2="175.7" stroke="#1e1e1e" stroke-width="0.8" stroke-dasharray="2.5,1.5"/>
<line x1="414.0" y1="180.3" x2="442.0" y2="180.3" stroke="#1e1e1e" stroke-width="0.6" stroke-dasharray="2,2"/>
<line x1="442.9" y1="175.7" x2="442.9" y2="237.4" stroke="#1e1e1e" stroke-width="1.6"/>
<line x1="544.6" y1="175.7" x2="544.6" y2="237.4" stroke="#1e1e1e" stroke-width="1.6"/>
<line x1="576.6" y1="176.3" x2="576.6" y2="236.0" stroke="#1e1e1e" stroke-width="0.8" stroke-dasharray="5,1.5,1,1.5"/>
<line x1="545.0" y1="176.3" x2="576.6" y2="176.3" stroke="#1e1e1e" stroke-width="0.8" stroke-dasharray="2.5,1.5"/>
<line x1="546.0" y1="180.0" x2="575.0" y2="180.0" stroke="#1e1e1e" stroke-width="0.6" stroke-dasharray="2,2"/>
<rect x="442.6" y="176.2" width="102.4" height="4.0" fill="#bbb" stroke="#1e1e1e" stroke-width="1.0"/>
<path d="M443,179 l3,-2 l3,2.5 l4,-2 l3,2 l5,-2.5 l3,2 l4,-1.5 l4,2 l3,-2 l5,2 l3,-2.5 l4,2 l5,-1.5 l3,2 l4,-2 l4,2 l3,-2 l5,2.5 l3,-2 l4,1.5 l4,-2 l3,2 l5,-1.5 l4,1.5 l3,-2 l4,2" fill="none" stroke="#1e1e1e" stroke-width="1.0"/>
<rect x="455.0" y="171.5" width="44.0" height="12.6" fill="none" stroke="#1e1e1e" stroke-width="1.0"/>
<rect x="499.0" y="166.8" width="13.3" height="17.3" fill="none" stroke="#1e1e1e" stroke-width="1.0"/>
<line x1="502.0" y1="166.8" x2="502.0" y2="176.0" stroke="#1e1e1e" stroke-width="0.6"/>
<line x1="509.5" y1="166.8" x2="509.5" y2="176.0" stroke="#1e1e1e" stroke-width="0.6"/>
<rect x="512.3" y="171.5" width="20.5" height="12.6" fill="none" stroke="#1e1e1e" stroke-width="1.0"/>
<polyline points="456.5,171.5 456.5,166.8 474.6,166.8 474.6,171.5" fill="none" stroke="#1e1e1e" stroke-width="0.9"/>
<polyline points="514.0,171.5 514.0,166.8 532.8,166.8 532.8,171.5" fill="none" stroke="#1e1e1e" stroke-width="0.9"/>
<line x1="465.0" y1="165.2" x2="465.0" y2="166.8" stroke="#1e1e1e" stroke-width="0.9"/>
<line x1="522.0" y1="165.2" x2="522.0" y2="166.8" stroke="#1e1e1e" stroke-width="0.9"/>
<line x1="454.0" y1="184.1" x2="533.5" y2="184.1" stroke="#1e1e1e" stroke-width="1.1"/>
<line x1="458.0" y1="184.3" x2="458.0" y2="230.6" stroke="#1e1e1e" stroke-width="1.1"/>
<line x1="461.4" y1="184.3" x2="461.4" y2="230.6" stroke="#1e1e1e" stroke-width="1.1"/>
<line x1="525.7" y1="184.3" x2="525.7" y2="230.6" stroke="#1e1e1e" stroke-width="1.1"/>
<line x1="529.1" y1="184.3" x2="529.1" y2="230.6" stroke="#1e1e1e" stroke-width="1.1"/>
<line x1="501.7" y1="179.0" x2="501.7" y2="230.6" stroke="#1e1e1e" stroke-width="1.3"/>
<line x1="511.1" y1="179.0" x2="511.1" y2="230.6" stroke="#1e1e1e" stroke-width="1.3"/>
<line x1="501.7" y1="184.5" x2="511.1" y2="184.5" stroke="#1e1e1e" stroke-width="0.8"/>
<line x1="501.7" y1="190.7" x2="511.1" y2="190.7" stroke="#1e1e1e" stroke-width="0.8"/>
<line x1="501.7" y1="196.9" x2="511.1" y2="196.9" stroke="#1e1e1e" stroke-width="0.8"/>
<line x1="501.7" y1="203.1" x2="511.1" y2="203.1" stroke="#1e1e1e" stroke-width="0.8"/>
<line x1="501.7" y1="209.3" x2="511.1" y2="209.3" stroke="#1e1e1e" stroke-width="0.8"/>
<line x1="501.7" y1="215.5" x2="511.1" y2="215.5" stroke="#1e1e1e" stroke-width="0.8"/>
<line x1="501.7" y1="221.7" x2="511.1" y2="221.7" stroke="#1e1e1e" stroke-width="0.8"/>
<line x1="501.7" y1="227.9" x2="511.1" y2="227.9" stroke="#1e1e1e" stroke-width="0.8"/>
<line x1="442.9" y1="230.6" x2="544.6" y2="230.6" stroke="#1e1e1e" stroke-width="1.2"/>
<line x1="430.0" y1="234.9" x2="557.7" y2="234.9" stroke="#1e1e1e" stroke-width="1.2"/>
<rect x="430.0" y="235.0" width="127.7" height="2.4" fill="#d0d0d0" stroke="#1e1e1e" stroke-width="0.0"/>
<line x1="430.0" y1="237.4" x2="557.7" y2="237.4" stroke="#1e1e1e" stroke-width="0.9" stroke-dasharray="2,1.5"/>
<path d="M444,233 l4,-1 l4,1 l4,-1 l4,1 l4,-1 l4,1 l4,-1 l4,1 l4,-1 l4,1 l4,-1 l4,1 l4,-1 l4,1 l4,-1 l4,1 l4,-1 l4,1 l4,-1 l4,1 l4,-1 l4,1 l4,-1 l4,1" fill="none" stroke="#1e1e1e" stroke-width="0.7"/>
<rect x="430.0" y="230.6" width="12.9" height="5.1" fill="none" stroke="#1e1e1e" stroke-width="0.9"/>
<rect x="546.6" y="227.7" width="11.1" height="6.9" fill="none" stroke="#1e1e1e" stroke-width="0.9"/>
<line x1="413.7" y1="227.0" x2="430.0" y2="227.0" stroke="#1e1e1e" stroke-width="0.8" stroke-dasharray="2.5,1.5"/>
<line x1="557.7" y1="227.0" x2="576.6" y2="227.0" stroke="#1e1e1e" stroke-width="0.8" stroke-dasharray="2.5,1.5"/>
<line x1="413.7" y1="231.1" x2="430.0" y2="231.1" stroke="#1e1e1e" stroke-width="0.8" stroke-dasharray="2.5,1.5"/>
<line x1="557.7" y1="231.1" x2="576.6" y2="231.1" stroke="#1e1e1e" stroke-width="0.8" stroke-dasharray="2.5,1.5"/>
<line x1="413.7" y1="234.6" x2="430.0" y2="234.6" stroke="#1e1e1e" stroke-width="0.8" stroke-dasharray="2.5,1.5"/>
<line x1="557.7" y1="234.6" x2="576.6" y2="234.6" stroke="#1e1e1e" stroke-width="0.8" stroke-dasharray="2.5,1.5"/>
<text transform="translate(446.00 200.00) skewX(-14) scale(0.755 1)" font-family="Liberation Sans" font-size="7" font-weight="bold" letter-spacing="0.000" fill="#1e1e1e" stroke="#1e1e1e" stroke-width="0.2"><tspan font-size="7.00">Д.</tspan><tspan font-size="4.34">Ш</tspan><tspan font-size="7.00">.</tspan></text>
<line x1="445.5" y1="201.0" x2="456.5" y2="201.0" stroke="#1e1e1e" stroke-width="0.6"/>
<path d="M446,201 l-2,4 l1,2" fill="none" stroke="#1e1e1e" stroke-width="0.7"/>
<text transform="translate(532.00 200.00) skewX(-14) scale(0.755 1)" font-family="Liberation Sans" font-size="7" font-weight="bold" letter-spacing="0.000" fill="#1e1e1e" stroke="#1e1e1e" stroke-width="0.2"><tspan font-size="7.00">Д.</tspan><tspan font-size="4.34">Ш</tspan><tspan font-size="7.00">.</tspan></text>
<line x1="531.5" y1="201.0" x2="542.0" y2="201.0" stroke="#1e1e1e" stroke-width="0.6"/>
<path d="M542,201 l2,4 l-1,2" fill="none" stroke="#1e1e1e" stroke-width="0.7"/>
<text transform="translate(416.00 224.00) skewX(-14) scale(0.820 1)" font-family="Liberation Sans" font-size="6.6" font-weight="bold" letter-spacing="0.407" fill="#1e1e1e" stroke="#1e1e1e" stroke-width="0.2"><tspan font-size="5.68">I</tspan><tspan font-size="6.60">=0.002</tspan></text>
<line x1="415.5" y1="225.0" x2="436.0" y2="225.0" stroke="#1e1e1e" stroke-width="0.6"/>
<text transform="translate(554.00 222.00) skewX(-14) scale(0.820 1)" font-family="Liberation Sans" font-size="6.6" font-weight="bold" letter-spacing="0.753" fill="#1e1e1e" stroke="#1e1e1e" stroke-width="0.2"><tspan font-size="5.68">I</tspan><tspan font-size="6.60">=0.002</tspan></text>
<line x1="553.5" y1="223.0" x2="576.0" y2="223.0" stroke="#1e1e1e" stroke-width="0.6"/>
<text transform="translate(335.70 251.50) skewX(-14) scale(0.900 1)" font-family="Liberation Sans" font-size="7.4" font-weight="normal" letter-spacing="0.198" fill="#1e1e1e" stroke="#1e1e1e" stroke-width="0.32"><tspan font-size="7.40">П</tspan><tspan font-size="6.36">ОДГОТОВКА</tspan><tspan font-size="7.40"> </tspan><tspan font-size="6.36">ИЗ</tspan><tspan font-size="7.40"> </tspan><tspan font-size="6.36">БЕТОНА</tspan></text>
<line x1="334.7" y1="253.1" x2="417.3" y2="253.1" stroke="#1e1e1e" stroke-width="0.9"/>
<path d="M417.3,253.1 C423,251 424,242 430,237.4" fill="none" stroke="#1e1e1e" stroke-width="0.8"/>
<text transform="translate(353.80 261.00) skewX(-14) scale(0.900 1)" font-family="Liberation Sans" font-size="7.4" font-weight="normal" letter-spacing="0.667" word-spacing="2.086" fill="#1e1e1e" stroke="#1e1e1e" stroke-width="0.32"><tspan font-size="6.36">МАРКИ</tspan><tspan font-size="7.40"> 50</tspan></text>
<text transform="translate(571.40 245.70) skewX(-14) scale(0.900 1)" font-family="Liberation Sans" font-size="7.2" font-weight="normal" letter-spacing="0.448" fill="#1e1e1e" stroke="#1e1e1e" stroke-width="0.32"><tspan font-size="7.20">М</tspan><tspan font-size="6.19">ОНОЛИТНАЯ</tspan><tspan font-size="7.20"> </tspan><tspan font-size="6.19">ВСТАВКА</tspan></text>
<line x1="565.0" y1="247.3" x2="650.6" y2="247.3" stroke="#1e1e1e" stroke-width="0.9"/>
<path d="M556.3,237.0 C559,241 561,247 566,247.3" fill="none" stroke="#1e1e1e" stroke-width="0.8"/>
<text transform="translate(597.40 254.80) skewX(-14) scale(0.900 1)" font-family="Liberation Sans" font-size="7.2" font-weight="normal" letter-spacing="0.537" fill="#1e1e1e" stroke="#1e1e1e" stroke-width="0.32"><tspan font-size="6.19">МАРКИ</tspan><tspan font-size="7.20"> ПВТ</tspan></text>
<line x1="428.3" y1="259.7" x2="591.0" y2="259.7" stroke="#1e1e1e" stroke-width="0.8"/>
<line x1="429.0" y1="238.0" x2="429.0" y2="262.0" stroke="#1e1e1e" stroke-width="0.6"/>
<line x1="427.5" y1="261.2" x2="430.5" y2="258.2" stroke="#1e1e1e" stroke-width="1.3"/>
<line x1="442.9" y1="238.0" x2="442.9" y2="262.0" stroke="#1e1e1e" stroke-width="0.6"/>
<line x1="441.4" y1="261.2" x2="444.4" y2="258.2" stroke="#1e1e1e" stroke-width="1.3"/>
<line x1="544.6" y1="238.0" x2="544.6" y2="262.0" stroke="#1e1e1e" stroke-width="0.6"/>
<line x1="543.1" y1="261.2" x2="546.1" y2="258.2" stroke="#1e1e1e" stroke-width="1.3"/>
<line x1="558.0" y1="238.0" x2="558.0" y2="262.0" stroke="#1e1e1e" stroke-width="0.6"/>
<line x1="556.5" y1="261.2" x2="559.5" y2="258.2" stroke="#1e1e1e" stroke-width="1.3"/>
<text transform="translate(431.50 257.50) skewX(-14) scale(0.820 1)" font-family="Liberation Sans" font-size="5.6" font-weight="bold" letter-spacing="0.817" fill="#1e1e1e" stroke="#1e1e1e" stroke-width="0.2"><tspan font-size="5.60">750</tspan></text>
<text transform="translate(489.00 257.50) skewX(-14) scale(0.820 1)" font-family="Liberation Sans" font-size="5.8" font-weight="bold" letter-spacing="1.391" fill="#1e1e1e" stroke="#1e1e1e" stroke-width="0.2"><tspan font-size="5.80">6000</tspan></text>
<text transform="translate(547.00 257.50) skewX(-14) scale(0.820 1)" font-family="Liberation Sans" font-size="5.6" font-weight="bold" letter-spacing="1.121" fill="#1e1e1e" stroke="#1e1e1e" stroke-width="0.2"><tspan font-size="5.60">750</tspan></text>
<text transform="translate(469.90 278.00) skewX(-14) scale(1.000 1)" font-family="Liberation Sans" font-size="8.5" font-weight="normal" letter-spacing="1.000" word-spacing="4.429" fill="#1e1e1e" stroke="#1e1e1e" stroke-width="0.35"><tspan font-size="8.50">Р</tspan><tspan font-size="6.63">АЗРЕЗ</tspan><tspan font-size="8.50"> 1-1</tspan></text>
<line x1="464.7" y1="280.3" x2="527.0" y2="280.3" stroke="#1e1e1e" stroke-width="1.8"/>
<line x1="366.0" y1="269.5" x2="366.0" y2="378.6" stroke="#1e1e1e" stroke-width="0.8"/>
<line x1="364.5" y1="332.4" x2="367.5" y2="329.4" stroke="#1e1e1e" stroke-width="1.3"/>
<line x1="364.5" y1="379.2" x2="367.5" y2="376.2" stroke="#1e1e1e" stroke-width="1.3"/>
<line x1="382.0" y1="269.5" x2="382.0" y2="378.6" stroke="#1e1e1e" stroke-width="0.8"/>
<line x1="380.5" y1="332.4" x2="383.5" y2="329.4" stroke="#1e1e1e" stroke-width="1.3"/>
<line x1="380.5" y1="379.2" x2="383.5" y2="376.2" stroke="#1e1e1e" stroke-width="1.3"/>
<line x1="396.6" y1="269.5" x2="396.6" y2="378.6" stroke="#1e1e1e" stroke-width="0.8"/>
<line x1="395.1" y1="332.4" x2="398.1" y2="329.4" stroke="#1e1e1e" stroke-width="1.3"/>
<line x1="395.1" y1="379.2" x2="398.1" y2="376.2" stroke="#1e1e1e" stroke-width="1.3"/>
<line x1="362.0" y1="330.9" x2="447.1" y2="330.9" stroke="#1e1e1e" stroke-width="0.8"/>
<line x1="362.0" y1="377.7" x2="447.1" y2="377.7" stroke="#1e1e1e" stroke-width="0.8"/>
<text transform="translate(363.80 327.00) rotate(-90) skewX(-14) scale(0.820 1)" font-family="Liberation Sans" font-size="6.4" font-weight="bold" letter-spacing="0.196" fill="#1e1e1e" stroke="#1e1e1e" stroke-width="0.2"><tspan font-size="6.40">Д</tspan><tspan font-size="5.50">ЛЯ</tspan><tspan font-size="6.40"> УТ-21; 24; 27; 30</tspan></text>
<text transform="translate(379.60 327.00) rotate(-90) skewX(-14) scale(0.820 1)" font-family="Liberation Sans" font-size="6.4" font-weight="bold" letter-spacing="0.629" fill="#1e1e1e" stroke="#1e1e1e" stroke-width="0.2"><tspan font-size="6.40">Д</tspan><tspan font-size="5.50">ЛЯ</tspan><tspan font-size="6.40"> УТ-23; 26; 29</tspan></text>
<text transform="translate(394.80 327.00) rotate(-90) skewX(-14) scale(0.820 1)" font-family="Liberation Sans" font-size="6.4" font-weight="bold" letter-spacing="0.629" fill="#1e1e1e" stroke="#1e1e1e" stroke-width="0.2"><tspan font-size="6.40">Д</tspan><tspan font-size="5.50">ЛЯ</tspan><tspan font-size="6.40"> УТ-22; 25; 28</tspan></text>
<text transform="translate(363.82 359.00) rotate(-90) skewX(-14) scale(0.820 1)" font-family="Liberation Sans" font-size="5.6" font-weight="bold" letter-spacing="0.726" fill="#1e1e1e" stroke="#1e1e1e" stroke-width="0.2"><tspan font-size="5.60">3040</tspan></text>
<text transform="translate(379.82 359.00) rotate(-90) skewX(-14) scale(0.820 1)" font-family="Liberation Sans" font-size="5.6" font-weight="bold" letter-spacing="0.319" fill="#1e1e1e" stroke="#1e1e1e" stroke-width="0.2"><tspan font-size="5.60">2510</tspan></text>
<text transform="translate(394.62 359.00) rotate(-90) skewX(-14) scale(0.820 1)" font-family="Liberation Sans" font-size="5.6" font-weight="bold" letter-spacing="0.422" fill="#1e1e1e" stroke="#1e1e1e" stroke-width="0.2"><tspan font-size="5.60">2110</tspan></text>
<line x1="559.3" y1="268.4" x2="559.3" y2="381.6" stroke="#1e1e1e" stroke-width="0.8"/>
<line x1="557.8" y1="333.9" x2="560.8" y2="330.9" stroke="#1e1e1e" stroke-width="1.3"/>
<line x1="557.8" y1="383.1" x2="560.8" y2="380.1" stroke="#1e1e1e" stroke-width="1.3"/>
<line x1="576.4" y1="268.4" x2="576.4" y2="381.6" stroke="#1e1e1e" stroke-width="0.8"/>
<line x1="574.9" y1="333.9" x2="577.9" y2="330.9" stroke="#1e1e1e" stroke-width="1.3"/>
<line x1="574.9" y1="383.1" x2="577.9" y2="380.1" stroke="#1e1e1e" stroke-width="1.3"/>
<line x1="594.1" y1="268.4" x2="594.1" y2="381.6" stroke="#1e1e1e" stroke-width="0.8"/>
<line x1="592.6" y1="333.9" x2="595.6" y2="330.9" stroke="#1e1e1e" stroke-width="1.3"/>
<line x1="592.6" y1="383.1" x2="595.6" y2="380.1" stroke="#1e1e1e" stroke-width="1.3"/>
<line x1="537.4" y1="332.4" x2="595.0" y2="332.4" stroke="#1e1e1e" stroke-width="0.8"/>
<line x1="537.4" y1="381.6" x2="595.0" y2="381.6" stroke="#1e1e1e" stroke-width="0.8"/>
<text transform="translate(556.90 329.60) rotate(-90) skewX(-14) scale(0.820 1)" font-family="Liberation Sans" font-size="6.4" font-weight="bold" letter-spacing="0.858" fill="#1e1e1e" stroke="#1e1e1e" stroke-width="0.15"><tspan font-size="6.40">Д</tspan><tspan font-size="5.50">ЛЯ</tspan><tspan font-size="6.40"> УТ-22; 25; 28</tspan></text>
<text transform="translate(574.30 328.70) rotate(-90) skewX(-14) scale(0.820 1)" font-family="Liberation Sans" font-size="6.4" font-weight="bold" letter-spacing="0.629" fill="#1e1e1e" stroke="#1e1e1e" stroke-width="0.15"><tspan font-size="6.40">Д</tspan><tspan font-size="5.50">ЛЯ</tspan><tspan font-size="6.40"> УТ-23; 26; 29</tspan></text>
<text transform="translate(592.70 329.60) rotate(-90) skewX(-14) scale(0.820 1)" font-family="Liberation Sans" font-size="6.4" font-weight="bold" letter-spacing="0.318" fill="#1e1e1e" stroke="#1e1e1e" stroke-width="0.15"><tspan font-size="6.40">Д</tspan><tspan font-size="5.50">ЛЯ</tspan><tspan font-size="6.40"> УТ-21; 24; 27; 30</tspan></text>
<text transform="translate(559.80 366.00) rotate(-90) skewX(-14) scale(0.820 1)" font-family="Liberation Sans" font-size="6.4" font-weight="bold" letter-spacing="1.470" fill="#1e1e1e" stroke="#1e1e1e" stroke-width="0.2"><tspan font-size="6.40">2110</tspan></text>
<text transform="translate(576.50 366.00) rotate(-90) skewX(-14) scale(0.820 1)" font-family="Liberation Sans" font-size="6.4" font-weight="bold" letter-spacing="1.352" fill="#1e1e1e" stroke="#1e1e1e" stroke-width="0.2"><tspan font-size="6.40">2510</tspan></text>
<text transform="translate(593.60 366.50) rotate(-90) skewX(-14) scale(0.820 1)" font-family="Liberation Sans" font-size="6.4" font-weight="bold" letter-spacing="1.470" fill="#1e1e1e" stroke="#1e1e1e" stroke-width="0.2"><tspan font-size="6.40">3110</tspan></text>
<text transform="translate(404.80 312.10) skewX(-14) scale(0.900 1)" font-family="Liberation Sans" font-size="7.0" font-weight="normal" letter-spacing="0.667" word-spacing="0.895" fill="#1e1e1e" stroke="#1e1e1e" stroke-width="0.32"><tspan font-size="7.00">П</tspan><tspan font-size="6.02">ЛИТА</tspan><tspan font-size="7.00"> </tspan><tspan font-size="6.02">МАРКИ</tspan><tspan font-size="7.00"> ПТ</tspan></text>
<line x1="401.4" y1="313.9" x2="465.7" y2="313.9" stroke="#1e1e1e" stroke-width="0.9"/>
<line x1="465.7" y1="313.9" x2="471.0" y2="328.0" stroke="#1e1e1e" stroke-width="0.8"/>
<text transform="translate(483.00 305.70) skewX(-14) scale(0.900 1)" font-family="Liberation Sans" font-size="7.0" font-weight="normal" letter-spacing="0.776" fill="#1e1e1e" stroke="#1e1e1e" stroke-width="0.32"><tspan font-size="7.00">БТ6</tspan></text>
<line x1="480.7" y1="307.4" x2="500.0" y2="307.4" stroke="#1e1e1e" stroke-width="0.9"/>
<line x1="500.0" y1="307.4" x2="506.4" y2="322.8" stroke="#1e1e1e" stroke-width="0.8"/>
<circle cx="491.7" cy="317.1" r="5.6" fill="none" stroke="#1e1e1e" stroke-width="0.9"/>
<text x="488.3" y="316.2" font-family="Liberation Sans" font-size="4.8" font-weight="bold" font-style="italic" fill="#1e1e1e" text-anchor="start" textLength="6.2" lengthAdjust="spacingAndGlyphs">28</text>
<text x="489.2" y="321.7" font-family="Liberation Sans" font-size="4.8" font-weight="bold" font-style="italic" fill="#1e1e1e" text-anchor="start" textLength="6.2" lengthAdjust="spacingAndGlyphs">31</text>
<line x1="486.5" y1="320.5" x2="497.0" y2="313.5" stroke="#1e1e1e" stroke-width="0.6"/>
<text transform="translate(518.30 303.60) skewX(-14) scale(0.900 1)" font-family="Liberation Sans" font-size="7.0" font-weight="normal" letter-spacing="0.192" fill="#1e1e1e" stroke="#1e1e1e" stroke-width="0.32"><tspan font-size="7.00">ПТ10</tspan></text>
<line x1="513.8" y1="304.6" x2="537.4" y2="304.6" stroke="#1e1e1e" stroke-width="0.9"/>
<line x1="537.4" y1="304.6" x2="535.4" y2="326.0" stroke="#1e1e1e" stroke-width="0.8"/>
<line x1="447.1" y1="327.7" x2="447.1" y2="389.4" stroke="#1e1e1e" stroke-width="1.3"/>
<line x1="451.4" y1="332.0" x2="451.4" y2="389.4" stroke="#1e1e1e" stroke-width="1.0"/>
<line x1="537.1" y1="327.7" x2="537.1" y2="389.4" stroke="#1e1e1e" stroke-width="1.3"/>
<line x1="532.9" y1="332.0" x2="532.9" y2="380.9" stroke="#1e1e1e" stroke-width="1.0"/>
<rect x="447.3" y="327.4" width="55.0" height="4.3" fill="#c4c4c4" stroke="#1e1e1e" stroke-width="1.0"/>
<path d="M449,330 l3,-1.5 l3,2 l4,-1.5 l3,1.5 l4,-2 l3,2 l4,-1.5 l3,1.5 l4,-2 l3,2 l4,-1.5 l3,1.5 l4,-1.5 l3,1.5" fill="none" stroke="#1e1e1e" stroke-width="0.9"/>
<path d="M510.5,325 L534,325 C537,326 537,331 534,331.7 L510.5,331.7 Z" fill="#c0c0c0" stroke="#1e1e1e" stroke-width="1.1"/>
<path d="M512,329 l3,-2.5 l3,2.5 l3,-2.5 l3,2.5 l3,-2.5 l3,2.5 l3,-2.5 l3,2" fill="none" stroke="#1e1e1e" stroke-width="1.0"/>
<path d="M503.5,324 C505,322.5 509,322.5 510.5,325 C511.5,328 510.5,331 511,334 C510,336.5 505,336.5 503,334.5 C502,331 502.5,327 503.5,324 Z" fill="#aaa" stroke="#1e1e1e" stroke-width="1.2"/>
<path d="M503.5,326 l6,2.5 M503,330 l7,-1.5 M504,333.5 l5,1" fill="none" stroke="#1e1e1e" stroke-width="1.0"/>
<polyline points="516.6,324.3 516.6,316.6 532.9,316.6 532.9,324.3" fill="none" stroke="#1e1e1e" stroke-width="0.8"/>
<line x1="521.0" y1="316.6" x2="521.0" y2="319.5" stroke="#1e1e1e" stroke-width="0.6"/>
<line x1="528.0" y1="316.6" x2="528.0" y2="319.5" stroke="#1e1e1e" stroke-width="0.6"/>
<polyline points="501.1,332.9 455.7,336.3 453.0,378.3 469.4,380.9 501.1,380.9" fill="none" stroke="#1e1e1e" stroke-width="0.9"/>
<line x1="469.4" y1="380.9" x2="501.1" y2="380.9" stroke="#1e1e1e" stroke-width="1.1"/>
<line x1="501.1" y1="332.9" x2="501.1" y2="380.9" stroke="#1e1e1e" stroke-width="0.9"/>
<line x1="447.0" y1="332.0" x2="533.0" y2="332.0" stroke="#1e1e1e" stroke-width="0.6"/>
<text transform="translate(472.50 374.00) skewX(-14) scale(0.820 1)" font-family="Liberation Sans" font-size="6.0" font-weight="bold" letter-spacing="1.575" fill="#1e1e1e" stroke="#1e1e1e" stroke-width="0.2"><tspan font-size="4.80">I</tspan><tspan font-size="6.00">=0.01</tspan></text>
<line x1="471.5" y1="375.2" x2="492.5" y2="375.2" stroke="#1e1e1e" stroke-width="0.7"/>
<line x1="520.0" y1="331.0" x2="520.0" y2="380.9" stroke="#1e1e1e" stroke-width="1.2"/>
<line x1="529.4" y1="331.0" x2="529.4" y2="380.9" stroke="#1e1e1e" stroke-width="1.2"/>
<line x1="520.0" y1="338.0" x2="529.4" y2="338.0" stroke="#1e1e1e" stroke-width="0.8"/>
<line x1="520.0" y1="344.9" x2="529.4" y2="344.9" stroke="#1e1e1e" stroke-width="0.8"/>
<line x1="520.0" y1="351.8" x2="529.4" y2="351.8" stroke="#1e1e1e" stroke-width="0.8"/>
<line x1="520.0" y1="358.7" x2="529.4" y2="358.7" stroke="#1e1e1e" stroke-width="0.8"/>
<line x1="520.0" y1="365.6" x2="529.4" y2="365.6" stroke="#1e1e1e" stroke-width="0.8"/>
<line x1="520.0" y1="372.5" x2="529.4" y2="372.5" stroke="#1e1e1e" stroke-width="0.8"/>
<line x1="520.0" y1="379.4" x2="529.4" y2="379.4" stroke="#1e1e1e" stroke-width="0.8"/>
<rect x="523.4" y="380.9" width="6.9" height="5.1" fill="none" stroke="#1e1e1e" stroke-width="0.8"/>
<line x1="452.0" y1="380.9" x2="537.0" y2="380.9" stroke="#1e1e1e" stroke-width="0.9"/>
<rect x="445.8" y="387.2" width="93.5" height="2.3" fill="#b8b8b8" stroke="#1e1e1e" stroke-width="0.9"/>
<path d="M446,388.5 l6,0.5 l6,-0.5 l6,0.5 l6,-0.5 l6,0.5 l6,-0.5 l6,0.5 l6,-0.5 l6,0.5 l6,-0.5 l6,0.5" fill="none" stroke="#1e1e1e" stroke-width="0.8"/>
<line x1="418.0" y1="387.5" x2="444.5" y2="387.5" stroke="#1e1e1e" stroke-width="0.8"/>
<line x1="418.0" y1="389.0" x2="444.5" y2="389.0" stroke="#1e1e1e" stroke-width="0.8"/>
<text transform="translate(416.52 391.00) rotate(-90) skewX(-14) scale(0.820 1)" font-family="Liberation Sans" font-size="5.6" font-weight="bold" letter-spacing="0.207" fill="#1e1e1e" stroke="#1e1e1e" stroke-width="0.2"><tspan font-size="5.60">150</tspan></text>
<path d="M539.7,389.4 C548,389 550,400 556,400.3" fill="none" stroke="#1e1e1e" stroke-width="0.8"/>
<line x1="448.9" y1="403.1" x2="537.1" y2="403.1" stroke="#1e1e1e" stroke-width="0.8"/>
<line x1="448.9" y1="390.0" x2="448.9" y2="405.0" stroke="#1e1e1e" stroke-width="0.6"/>
<line x1="447.4" y1="404.6" x2="450.4" y2="401.6" stroke="#1e1e1e" stroke-width="1.3"/>
<line x1="452.3" y1="390.0" x2="452.3" y2="405.0" stroke="#1e1e1e" stroke-width="0.6"/>
<line x1="450.8" y1="404.6" x2="453.8" y2="401.6" stroke="#1e1e1e" stroke-width="1.3"/>
<line x1="502.0" y1="390.0" x2="502.0" y2="405.0" stroke="#1e1e1e" stroke-width="0.6"/>
<line x1="500.5" y1="404.6" x2="503.5" y2="401.6" stroke="#1e1e1e" stroke-width="1.3"/>
<line x1="533.7" y1="390.0" x2="533.7" y2="405.0" stroke="#1e1e1e" stroke-width="0.6"/>
<line x1="532.2" y1="404.6" x2="535.2" y2="401.6" stroke="#1e1e1e" stroke-width="1.3"/>
<line x1="537.1" y1="390.0" x2="537.1" y2="405.0" stroke="#1e1e1e" stroke-width="0.6"/>
<line x1="535.6" y1="404.6" x2="538.6" y2="401.6" stroke="#1e1e1e" stroke-width="1.3"/>
<text transform="translate(441.50 401.50) skewX(-14) scale(0.820 1)" font-family="Liberation Sans" font-size="5.6" font-weight="bold" letter-spacing="0.207" fill="#1e1e1e" stroke="#1e1e1e" stroke-width="0.2"><tspan font-size="5.60">300</tspan></text>
<text transform="translate(473.50 401.50) skewX(-14) scale(0.820 1)" font-family="Liberation Sans" font-size="6.8" font-weight="bold" letter-spacing="0.577" fill="#1e1e1e" stroke="#1e1e1e" stroke-width="0.2"><tspan font-size="6.80">A</tspan></text>
<text transform="translate(508.50 401.50) skewX(-14) scale(0.820 1)" font-family="Liberation Sans" font-size="5.8" font-weight="bold" letter-spacing="0.578" fill="#1e1e1e" stroke="#1e1e1e" stroke-width="0.2"><tspan font-size="5.80">1800</tspan></text>
<text transform="translate(535.00 401.50) skewX(-14) scale(0.820 1)" font-family="Liberation Sans" font-size="5.6" font-weight="bold" letter-spacing="0.207" fill="#1e1e1e" stroke="#1e1e1e" stroke-width="0.2"><tspan font-size="5.60">200</tspan></text>
<text transform="translate(562.20 398.40) skewX(-14) scale(0.900 1)" font-family="Liberation Sans" font-size="7.6" font-weight="normal" letter-spacing="0.363" fill="#1e1e1e" stroke="#1e1e1e" stroke-width="0.32"><tspan font-size="7.60">П</tspan><tspan font-size="6.54">ОДГОТОВКА</tspan><tspan font-size="7.60"> </tspan><tspan font-size="6.54">ИЗ</tspan><tspan font-size="7.60"> </tspan><tspan font-size="6.54">БЕТОНА</tspan></text>
<line x1="555.7" y1="400.3" x2="643.8" y2="400.3" stroke="#1e1e1e" stroke-width="0.9"/>
<text transform="translate(585.80 407.80) skewX(-14) scale(0.900 1)" font-family="Liberation Sans" font-size="7.4" font-weight="normal" letter-spacing="0.667" word-spacing="4.642" fill="#1e1e1e" stroke="#1e1e1e" stroke-width="0.32"><tspan font-size="6.36">МАРКИ</tspan><tspan font-size="7.40"> 50</tspan></text>
<text transform="translate(466.50 418.30) skewX(-14) scale(1.000 1)" font-family="Liberation Sans" font-size="8.5" font-weight="normal" letter-spacing="1.000" word-spacing="4.089" fill="#1e1e1e" stroke="#1e1e1e" stroke-width="0.35"><tspan font-size="8.50">Р</tspan><tspan font-size="6.80">АЗРЕЗ</tspan><tspan font-size="8.50"> 2-2</tspan></text>
<line x1="460.1" y1="421.1" x2="523.0" y2="421.1" stroke="#1e1e1e" stroke-width="1.9"/>
<text transform="translate(108.00 390.20) skewX(-14) scale(0.900 1)" font-family="Liberation Sans" font-size="7.4" font-weight="normal" letter-spacing="0.489" fill="#1e1e1e" stroke="#1e1e1e" stroke-width="0.32"><tspan font-size="7.40">С</tspan><tspan font-size="6.36">М</tspan><tspan font-size="7.40">. </tspan><tspan font-size="6.36">ПРИМЕЧАНИЕ</tspan><tspan font-size="7.40"> 4</tspan></text>
<line x1="106.2" y1="391.8" x2="174.6" y2="391.8" stroke="#1e1e1e" stroke-width="0.9"/>
<line x1="174.6" y1="391.8" x2="185.7" y2="412.6" stroke="#1e1e1e" stroke-width="0.8"/>
<line x1="181.7" y1="382.0" x2="253.7" y2="382.0" stroke="#1e1e1e" stroke-width="0.8"/>
<line x1="181.7" y1="380.0" x2="181.7" y2="402.0" stroke="#1e1e1e" stroke-width="0.6"/>
<line x1="180.2" y1="383.5" x2="183.2" y2="380.5" stroke="#1e1e1e" stroke-width="1.3"/>
<line x1="253.7" y1="380.0" x2="253.7" y2="402.0" stroke="#1e1e1e" stroke-width="0.6"/>
<line x1="252.2" y1="383.5" x2="255.2" y2="380.5" stroke="#1e1e1e" stroke-width="1.3"/>
<text transform="translate(214.00 380.00) skewX(-14) scale(0.820 1)" font-family="Liberation Sans" font-size="5.8" font-weight="bold" letter-spacing="0.984" fill="#1e1e1e" stroke="#1e1e1e" stroke-width="0.2"><tspan font-size="5.80">4800</tspan></text>
<text x="206.0" y="360.0" font-family="Liberation Sans" font-size="8.5" font-weight="bold" font-style="italic" fill="#1e1e1e" text-anchor="start" textLength="6.0" lengthAdjust="spacingAndGlyphs">2</text>
<line x1="203.7" y1="362.3" x2="217.4" y2="362.3" stroke="#1e1e1e" stroke-width="1.8"/>
<line x1="214.6" y1="355.0" x2="214.6" y2="372.0" stroke="#1e1e1e" stroke-width="1.6"/>
<rect x="178.9" y="399.4" width="77.4" height="28.9" fill="none" stroke="#1e1e1e" stroke-width="1.2"/>
<line x1="182.3" y1="403.4" x2="252.9" y2="403.4" stroke="#1e1e1e" stroke-width="0.8" stroke-dasharray="3,1.8"/>
<line x1="182.3" y1="403.4" x2="182.3" y2="428.0" stroke="#1e1e1e" stroke-width="0.8" stroke-dasharray="3,1.8"/>
<line x1="252.9" y1="403.4" x2="252.9" y2="428.0" stroke="#1e1e1e" stroke-width="0.8" stroke-dasharray="3,1.8"/>
<line x1="178.9" y1="423.1" x2="256.3" y2="423.1" stroke="#1e1e1e" stroke-width="0.9"/>
<circle cx="190.4" cy="413.6" r="6.0" fill="none" stroke="#1e1e1e" stroke-width="1.3"/>
<circle cx="243.6" cy="413.2" r="6.2" fill="none" stroke="#1e1e1e" stroke-width="1.3"/>
<path d="M186.5,409 a5.2,5.2 0 0,0 0.5,9.5" fill="none" stroke="#1e1e1e" stroke-width="1.6"/>
<path d="M239.5,408.6 a5.2,5.2 0 0,0 0.5,9.5" fill="none" stroke="#1e1e1e" stroke-width="1.6"/>
<line x1="103.4" y1="402.3" x2="103.4" y2="484.6" stroke="#1e1e1e" stroke-width="0.8"/>
<line x1="103.4" y1="402.3" x2="178.9" y2="402.3" stroke="#1e1e1e" stroke-width="0.8"/>
<line x1="103.4" y1="431.4" x2="135.0" y2="431.4" stroke="#1e1e1e" stroke-width="0.8"/>
<line x1="103.4" y1="483.7" x2="135.0" y2="483.7" stroke="#1e1e1e" stroke-width="0.8"/>
<line x1="101.9" y1="403.8" x2="104.9" y2="400.8" stroke="#1e1e1e" stroke-width="1.3"/>
<line x1="101.9" y1="432.9" x2="104.9" y2="429.9" stroke="#1e1e1e" stroke-width="1.3"/>
<line x1="101.9" y1="485.2" x2="104.9" y2="482.2" stroke="#1e1e1e" stroke-width="1.3"/>
<text transform="translate(101.52 420.00) rotate(-90) skewX(-14) scale(0.820 1)" font-family="Liberation Sans" font-size="5.6" font-weight="bold" letter-spacing="0.319" fill="#1e1e1e" stroke="#1e1e1e" stroke-width="0.2"><tspan font-size="5.60">1800</tspan></text>
<text transform="translate(101.52 479.00) rotate(-90) skewX(-14) scale(0.820 1)" font-family="Liberation Sans" font-size="5.6" font-weight="bold" letter-spacing="0.467" fill="#1e1e1e" stroke="#1e1e1e" stroke-width="0.2"><tspan font-size="5.60">2100; 2000; 3000</tspan></text>
<text transform="translate(109.82 477.00) rotate(-90) skewX(-14) scale(0.820 1)" font-family="Liberation Sans" font-size="5.6" font-weight="bold" letter-spacing="1.730" fill="#1e1e1e" stroke="#1e1e1e" stroke-width="0.2"><tspan font-size="5.60">3400; 4200</tspan></text>
<line x1="80.5" y1="447.3" x2="80.4" y2="458.0" stroke="#1e1e1e" stroke-width="1.6"/>
<line x1="87.4" y1="447.7" x2="84.4" y2="455.4" stroke="#1e1e1e" stroke-width="1.3"/>
<line x1="78.1" y1="457.8" x2="90.1" y2="457.8" stroke="#1e1e1e" stroke-width="1.8"/>
<line x1="135.1" y1="429.7" x2="299.4" y2="429.7" stroke="#1e1e1e" stroke-width="0.9" stroke-dasharray="3,1.8"/>
<line x1="135.1" y1="432.3" x2="299.4" y2="432.3" stroke="#1e1e1e" stroke-width="0.9" stroke-dasharray="3,1.8"/>
<line x1="135.1" y1="482.9" x2="299.4" y2="482.9" stroke="#1e1e1e" stroke-width="0.9" stroke-dasharray="3,1.8"/>
<line x1="135.1" y1="487.1" x2="299.4" y2="487.1" stroke="#1e1e1e" stroke-width="0.9" stroke-dasharray="3,1.8"/>
<line x1="135.1" y1="429.7" x2="135.1" y2="487.1" stroke="#1e1e1e" stroke-width="0.8" stroke-dasharray="3,1.8"/>
<line x1="299.4" y1="429.7" x2="299.4" y2="488.3" stroke="#1e1e1e" stroke-width="0.8" stroke-dasharray="3,1.8"/>
<line x1="166.9" y1="487.4" x2="268.3" y2="487.4" stroke="#1e1e1e" stroke-width="1.0"/>
<line x1="166.9" y1="429.7" x2="166.9" y2="508.6" stroke="#1e1e1e" stroke-width="0.7"/>
<line x1="166.9" y1="429.7" x2="166.9" y2="487.4" stroke="#1e1e1e" stroke-width="1.6"/>
<line x1="192.3" y1="429.7" x2="192.3" y2="487.4" stroke="#1e1e1e" stroke-width="1.6"/>
<line x1="217.9" y1="429.7" x2="217.9" y2="487.4" stroke="#1e1e1e" stroke-width="1.6"/>
<line x1="242.6" y1="429.7" x2="242.6" y2="487.4" stroke="#1e1e1e" stroke-width="1.6"/>
<line x1="268.4" y1="429.7" x2="268.4" y2="487.4" stroke="#1e1e1e" stroke-width="1.6"/>
<circle cx="229.7" cy="458.3" r="6.0" fill="none" stroke="#1e1e1e" stroke-width="1.3"/>
<path d="M225.8,453.7 a5.2,5.2 0 0,0 0.5,9.5" fill="none" stroke="#1e1e1e" stroke-width="1.6"/>
<path d="M268,460 l-1,3 l1,3 l-1,3" fill="none" stroke="#1e1e1e" stroke-width="1.0"/>
<path d="M167,460 l-1,3 l1,3 l-1,3" fill="none" stroke="#1e1e1e" stroke-width="1.0"/>
<text transform="translate(146.00 458.00) skewX(-14) scale(0.820 1)" font-family="Liberation Sans" font-size="7" font-weight="bold" letter-spacing="0.466" fill="#1e1e1e" stroke="#1e1e1e" stroke-width="0.2"><tspan font-size="7.00">Д.</tspan><tspan font-size="4.34">Ш</tspan><tspan font-size="7.00">.</tspan></text>
<line x1="145.5" y1="459.2" x2="160.0" y2="459.2" stroke="#1e1e1e" stroke-width="0.6"/>
<path d="M160,459 C163,461 164,464 166,466" fill="none" stroke="#1e1e1e" stroke-width="0.7"/>
<text transform="translate(276.90 457.50) skewX(-14) scale(0.820 1)" font-family="Liberation Sans" font-size="7" font-weight="bold" letter-spacing="0.669" fill="#1e1e1e" stroke="#1e1e1e" stroke-width="0.2"><tspan font-size="7.00">Д.</tspan><tspan font-size="4.34">Ш</tspan><tspan font-size="7.00">.</tspan></text>
<line x1="276.0" y1="458.8" x2="290.0" y2="458.8" stroke="#1e1e1e" stroke-width="0.6"/>
<path d="M276,458.8 C272,461 271,464 269,466" fill="none" stroke="#1e1e1e" stroke-width="0.7"/>
<line x1="317.6" y1="447.5" x2="317.5" y2="460.1" stroke="#1e1e1e" stroke-width="1.6"/>
<line x1="313.5" y1="448.4" x2="310.5" y2="455.9" stroke="#1e1e1e" stroke-width="1.3"/>
<line x1="307.9" y1="458.0" x2="318.9" y2="458.0" stroke="#1e1e1e" stroke-width="1.8"/>
<text transform="translate(257.30 390.00) skewX(-14) scale(0.816 1)" font-family="Liberation Sans" font-size="7.0" font-weight="normal" letter-spacing="0.000" fill="#1e1e1e" stroke="#1e1e1e" stroke-width="0.32"><tspan font-size="7.00">ПОТ10</tspan></text>
<line x1="240.7" y1="391.1" x2="282.1" y2="391.1" stroke="#1e1e1e" stroke-width="0.9"/>
<line x1="240.7" y1="391.1" x2="233.0" y2="408.6" stroke="#1e1e1e" stroke-width="0.8"/>
<text transform="translate(261.60 410.00) skewX(-14) scale(0.900 1)" font-family="Liberation Sans" font-size="7.0" font-weight="normal" letter-spacing="0.443" fill="#1e1e1e" stroke="#1e1e1e" stroke-width="0.32"><tspan font-size="7.00">БТ6</tspan></text>
<line x1="257.9" y1="411.1" x2="279.3" y2="411.1" stroke="#1e1e1e" stroke-width="0.9"/>
<line x1="257.9" y1="411.1" x2="253.6" y2="427.0" stroke="#1e1e1e" stroke-width="0.8"/>
<text transform="translate(268.80 420.00) skewX(-14) scale(0.900 1)" font-family="Liberation Sans" font-size="7.2" font-weight="normal" letter-spacing="0.667" word-spacing="0.278" fill="#1e1e1e" stroke="#1e1e1e" stroke-width="0.32"><tspan font-size="7.20">П</tspan><tspan font-size="6.19">ЛИТА</tspan><tspan font-size="7.20"> </tspan><tspan font-size="6.19">МАРКИ</tspan><tspan font-size="7.20"> ПТ</tspan></text>
<line x1="265.0" y1="421.7" x2="327.9" y2="421.7" stroke="#1e1e1e" stroke-width="0.9"/>
<line x1="265.0" y1="421.7" x2="255.4" y2="440.3" stroke="#1e1e1e" stroke-width="0.8"/>
<text transform="translate(92.60 499.90) skewX(-14) scale(0.900 1)" font-family="Liberation Sans" font-size="8.0" font-weight="normal" letter-spacing="0.641" fill="#1e1e1e" stroke="#1e1e1e" stroke-width="0.32"><tspan font-size="8.00">П</tspan><tspan font-size="6.88">ЛИТЫ</tspan><tspan font-size="8.00"> </tspan><tspan font-size="6.88">МАРКИ</tspan><tspan font-size="8.00"> ПТ</tspan></text>
<line x1="91.3" y1="501.0" x2="198.9" y2="501.0" stroke="#1e1e1e" stroke-width="0.9"/>
<line x1="173.1" y1="500.6" x2="186.9" y2="478.3" stroke="#1e1e1e" stroke-width="0.8"/>
<line x1="198.9" y1="500.6" x2="211.4" y2="478.9" stroke="#1e1e1e" stroke-width="0.8"/>
<text transform="translate(245.50 500.20) skewX(-14) scale(0.900 1)" font-family="Liberation Sans" font-size="7.8" font-weight="normal" letter-spacing="0.532" fill="#1e1e1e" stroke="#1e1e1e" stroke-width="0.32"><tspan font-size="7.80">П</tspan><tspan font-size="6.71">ЛИТА</tspan><tspan font-size="7.80"> </tspan><tspan font-size="6.71">МАРКИ</tspan><tspan font-size="7.80"> ПОТ</tspan></text>
<line x1="242.9" y1="500.8" x2="312.7" y2="500.8" stroke="#1e1e1e" stroke-width="0.9"/>
<line x1="242.9" y1="500.8" x2="230.0" y2="479.7" stroke="#1e1e1e" stroke-width="0.8"/>
<line x1="166.9" y1="506.3" x2="267.7" y2="506.3" stroke="#1e1e1e" stroke-width="0.8"/>
<line x1="166.9" y1="488.0" x2="166.9" y2="509.0" stroke="#1e1e1e" stroke-width="0.6"/>
<line x1="165.4" y1="507.8" x2="168.4" y2="504.8" stroke="#1e1e1e" stroke-width="1.3"/>
<line x1="267.7" y1="488.0" x2="267.7" y2="509.0" stroke="#1e1e1e" stroke-width="0.6"/>
<line x1="266.2" y1="507.8" x2="269.2" y2="504.8" stroke="#1e1e1e" stroke-width="1.3"/>
<text transform="translate(212.00 504.50) skewX(-14) scale(0.820 1)" font-family="Liberation Sans" font-size="5.8" font-weight="bold" letter-spacing="1.391" fill="#1e1e1e" stroke="#1e1e1e" stroke-width="0.2"><tspan font-size="5.80">6000</tspan></text>
<text x="205.7" y="516.5" font-family="Liberation Sans" font-size="8.5" font-weight="bold" font-style="italic" fill="#1e1e1e" text-anchor="start" textLength="6.0" lengthAdjust="spacingAndGlyphs">2</text>
<line x1="203.6" y1="519.0" x2="216.0" y2="519.0" stroke="#1e1e1e" stroke-width="1.8"/>
<line x1="214.5" y1="510.7" x2="214.5" y2="521.4" stroke="#1e1e1e" stroke-width="1.6"/>
<text transform="translate(121.50 536.60) skewX(-14) scale(1.150 1)" font-family="Liberation Sans" font-size="7.6" font-weight="normal" letter-spacing="0.870" word-spacing="0.441" fill="#1e1e1e" stroke="#1e1e1e" stroke-width="0.28"><tspan font-size="7.60">П</tspan><tspan font-size="6.69">ЛАН</tspan><tspan font-size="7.60"> </tspan><tspan font-size="6.69">РАСКЛАДКИ</tspan><tspan font-size="7.60"> </tspan><tspan font-size="6.69">ПЛИТ</tspan><tspan font-size="7.60"> </tspan><tspan font-size="6.69">ПЕРЕКРЫТИЯ</tspan></text>
<line x1="116.0" y1="539.0" x2="305.0" y2="539.0" stroke="#1e1e1e" stroke-width="1.8"/>
<text transform="translate(484.00 436.00) skewX(-14) scale(0.820 1)" font-family="Liberation Sans" font-size="9.2" font-weight="bold" letter-spacing="1.707" fill="#1e1e1e" stroke="#1e1e1e" stroke-width="0.2"><tspan font-size="9.20">П</tspan><tspan font-size="7.91">РИМЕЧАНИЯ</tspan></text>
<line x1="482.0" y1="438.9" x2="551.1" y2="438.9" stroke="#1e1e1e" stroke-width="1.9"/>
<text transform="translate(383.00 448.60) skewX(-14) scale(0.789 1)" font-family="Liberation Sans" font-size="7.6" font-weight="bold" letter-spacing="0.000" fill="#1e1e1e" stroke="#1e1e1e" stroke-width="0.15"><tspan font-size="7.60">1.</tspan></text>
<text transform="translate(389.90 448.60) skewX(-14) scale(0.800 1)" font-family="Liberation Sans" font-size="7.6" font-weight="bold" letter-spacing="0.750" word-spacing="6.583" fill="#1e1e1e" stroke="#1e1e1e" stroke-width="0.18"><tspan font-size="7.60">Т</tspan><tspan font-size="6.84">АБЛИЦА</tspan><tspan font-size="7.60"> </tspan><tspan font-size="6.84">ДЛЯ</tspan><tspan font-size="7.60"> </tspan><tspan font-size="6.84">ПОДБОРА</tspan><tspan font-size="7.60"> </tspan><tspan font-size="6.84">СБОРНЫХ</tspan><tspan font-size="7.60"> </tspan><tspan font-size="6.84">ЖЕЛЕЗОБЕТОННЫХ</tspan><tspan font-size="7.60"> </tspan><tspan font-size="6.84">ЭЛЕМЕНТОВ</tspan><tspan font-size="7.60"> </tspan><tspan font-size="6.84">И</tspan></text>
<text transform="translate(389.90 457.10) skewX(-14) scale(0.800 1)" font-family="Liberation Sans" font-size="7.6" font-weight="bold" letter-spacing="0.750" word-spacing="7.228" fill="#1e1e1e" stroke="#1e1e1e" stroke-width="0.18"><tspan font-size="6.84">РАСХОД</tspan><tspan font-size="7.60"> </tspan><tspan font-size="6.84">МАТЕРИАЛОВ</tspan><tspan font-size="7.60"> </tspan><tspan font-size="6.84">НА</tspan><tspan font-size="7.60"> </tspan><tspan font-size="6.84">УШИРЕНИЯ</tspan><tspan font-size="7.60"> </tspan><tspan font-size="6.84">ТОННЕЛЕЙ</tspan><tspan font-size="7.60"> </tspan><tspan font-size="6.84">ПРИВЕДЕНЫ</tspan><tspan font-size="7.60"> </tspan><tspan font-size="6.84">НА</tspan></text>
<text transform="translate(391.00 465.70) skewX(-14) scale(0.800 1)" font-family="Liberation Sans" font-size="7.6" font-weight="bold" letter-spacing="0.750" word-spacing="3.704" fill="#1e1e1e" stroke="#1e1e1e" stroke-width="0.18"><tspan font-size="6.84">ЛИСТЕ</tspan><tspan font-size="7.60"> 36; </tspan><tspan font-size="6.84">ГАБАРИТНЫЕ</tspan><tspan font-size="7.60"> </tspan><tspan font-size="6.84">СХЕМЫ</tspan><tspan font-size="7.60"> </tspan><tspan font-size="6.84">УШИРЕНИЙ</tspan><tspan font-size="7.60"> – </tspan><tspan font-size="6.84">НА</tspan><tspan font-size="7.60"> </tspan><tspan font-size="6.84">ЛИСТЕ</tspan><tspan font-size="7.60"> 4.</tspan></text>
<text transform="translate(383.00 473.70) skewX(-14) scale(0.789 1)" font-family="Liberation Sans" font-size="7.6" font-weight="bold" letter-spacing="0.000" fill="#1e1e1e" stroke="#1e1e1e" stroke-width="0.15"><tspan font-size="7.60">2.</tspan></text>
<text transform="translate(389.90 473.70) skewX(-14) scale(0.800 1)" font-family="Liberation Sans" font-size="7.6" font-weight="bold" letter-spacing="0.750" word-spacing="6.597" fill="#1e1e1e" stroke="#1e1e1e" stroke-width="0.18"><tspan font-size="7.60">О</tspan><tspan font-size="6.84">ПАЛУБОЧНЫЕ</tspan><tspan font-size="7.60"> </tspan><tspan font-size="6.84">И</tspan><tspan font-size="7.60"> </tspan><tspan font-size="6.84">АРМАТУРНЫЕ</tspan><tspan font-size="7.60"> </tspan><tspan font-size="6.84">ЧЕРТЕЖИ</tspan><tspan font-size="7.60"> </tspan><tspan font-size="6.84">МОНОЛИТНЫХ</tspan><tspan font-size="7.60"> </tspan><tspan font-size="6.84">КОНСТРУКЦИЙ</tspan></text>
<text transform="translate(389.90 481.70) skewX(-14) scale(0.800 1)" font-family="Liberation Sans" font-size="7.6" font-weight="bold" letter-spacing="0.750" word-spacing="6.346" fill="#1e1e1e" stroke="#1e1e1e" stroke-width="0.18"><tspan font-size="6.84">УШИРЕНИЙ</tspan><tspan font-size="7.60"> </tspan><tspan font-size="6.84">ПРИВЕДЕНЫ</tspan><tspan font-size="7.60"> </tspan><tspan font-size="6.84">В</tspan><tspan font-size="7.60"> </tspan><tspan font-size="6.84">ВЫПУСКЕ</tspan><tspan font-size="7.60"> 3.</tspan></text>
<text transform="translate(383.00 490.30) skewX(-14) scale(0.789 1)" font-family="Liberation Sans" font-size="7.6" font-weight="bold" letter-spacing="0.000" fill="#1e1e1e" stroke="#1e1e1e" stroke-width="0.15"><tspan font-size="7.60">3.</tspan></text>
<text transform="translate(389.90 490.30) skewX(-14) scale(0.800 1)" font-family="Liberation Sans" font-size="7.6" font-weight="bold" letter-spacing="0.750" word-spacing="3.127" fill="#1e1e1e" stroke="#1e1e1e" stroke-width="0.18"><tspan font-size="7.60">У</tspan><tspan font-size="6.84">ШИРЕНИЯ</tspan><tspan font-size="7.60"> </tspan><tspan font-size="6.84">МОГУТ</tspan><tspan font-size="7.60"> </tspan><tspan font-size="6.84">УСТРАИВАТЬСЯ</tspan><tspan font-size="7.60"> </tspan><tspan font-size="6.84">В</tspan><tspan font-size="7.60"> </tspan><tspan font-size="6.84">ОБЕ</tspan><tspan font-size="7.60"> </tspan><tspan font-size="6.84">СТОРОНЫ</tspan><tspan font-size="7.60"> </tspan><tspan font-size="6.84">ОТ</tspan><tspan font-size="7.60"> </tspan><tspan font-size="6.84">ОСИ</tspan><tspan font-size="7.60"> </tspan><tspan font-size="6.84">ТОННЕЛЯ</tspan><tspan font-size="7.60"> </tspan><tspan font-size="6.84">С</tspan></text>
<text transform="translate(389.90 497.70) skewX(-14) scale(0.800 1)" font-family="Liberation Sans" font-size="7.6" font-weight="bold" letter-spacing="0.750" word-spacing="4.798" fill="#1e1e1e" stroke="#1e1e1e" stroke-width="0.18"><tspan font-size="6.84">ПРИМЕНЕНИЕМ</tspan><tspan font-size="7.60"> </tspan><tspan font-size="6.84">КОНСТРУКЦИЙ</tspan><tspan font-size="7.60">, </tspan><tspan font-size="6.84">ПРИВЕДЕНЫХ</tspan><tspan font-size="7.60"> </tspan><tspan font-size="6.84">НА</tspan><tspan font-size="7.60"> </tspan><tspan font-size="6.84">ДАННОМ</tspan><tspan font-size="7.60"> </tspan><tspan font-size="6.84">ЛИСТЕ</tspan><tspan font-size="7.60">.</tspan></text>
<text transform="translate(383.00 504.60) skewX(-14) scale(0.789 1)" font-family="Liberation Sans" font-size="7.6" font-weight="bold" letter-spacing="0.000" fill="#1e1e1e" stroke="#1e1e1e" stroke-width="0.15"><tspan font-size="7.60">4.</tspan></text>
<text transform="translate(389.90 504.60) skewX(-14) scale(0.800 1)" font-family="Liberation Sans" font-size="7.6" font-weight="bold" letter-spacing="0.750" word-spacing="2.823" fill="#1e1e1e" stroke="#1e1e1e" stroke-width="0.18"><tspan font-size="7.60">П</tspan><tspan font-size="6.84">РИ</tspan><tspan font-size="7.60"> </tspan><tspan font-size="6.84">ИСПОЛЬЗОВАНИИ</tspan><tspan font-size="7.60"> </tspan><tspan font-size="6.84">УШИРЕНИЙ</tspan><tspan font-size="7.60"> </tspan><tspan font-size="6.84">В</tspan><tspan font-size="7.60"> </tspan><tspan font-size="6.84">КАЧЕСТВЕ</tspan><tspan font-size="7.60"> </tspan><tspan font-size="6.84">НИШ</tspan><tspan font-size="7.60"> </tspan><tspan font-size="6.84">ДЛЯ</tspan><tspan font-size="7.60"> П-</tspan><tspan font-size="6.84">ОБРАЗНЫХ</tspan></text>
<text transform="translate(389.90 509.70) skewX(-14) scale(0.800 1)" font-family="Liberation Sans" font-size="7.6" font-weight="bold" letter-spacing="0.750" word-spacing="3.141" fill="#1e1e1e" stroke="#1e1e1e" stroke-width="0.18"><tspan font-size="6.84">КОМПЕНСАТОРОВ</tspan><tspan font-size="7.60">, </tspan><tspan font-size="6.84">ЛЮКИ</tspan><tspan font-size="7.60"> </tspan><tspan font-size="6.84">В</tspan><tspan font-size="7.60"> </tspan><tspan font-size="6.84">ПЕРЕКРЫТИЯХ</tspan><tspan font-size="7.60"> </tspan><tspan font-size="6.84">НЕ</tspan><tspan font-size="7.60"> </tspan><tspan font-size="6.84">УСТРАИВАЮТСЯ</tspan><tspan font-size="7.60">.</tspan></text>
</svg></body></html>
